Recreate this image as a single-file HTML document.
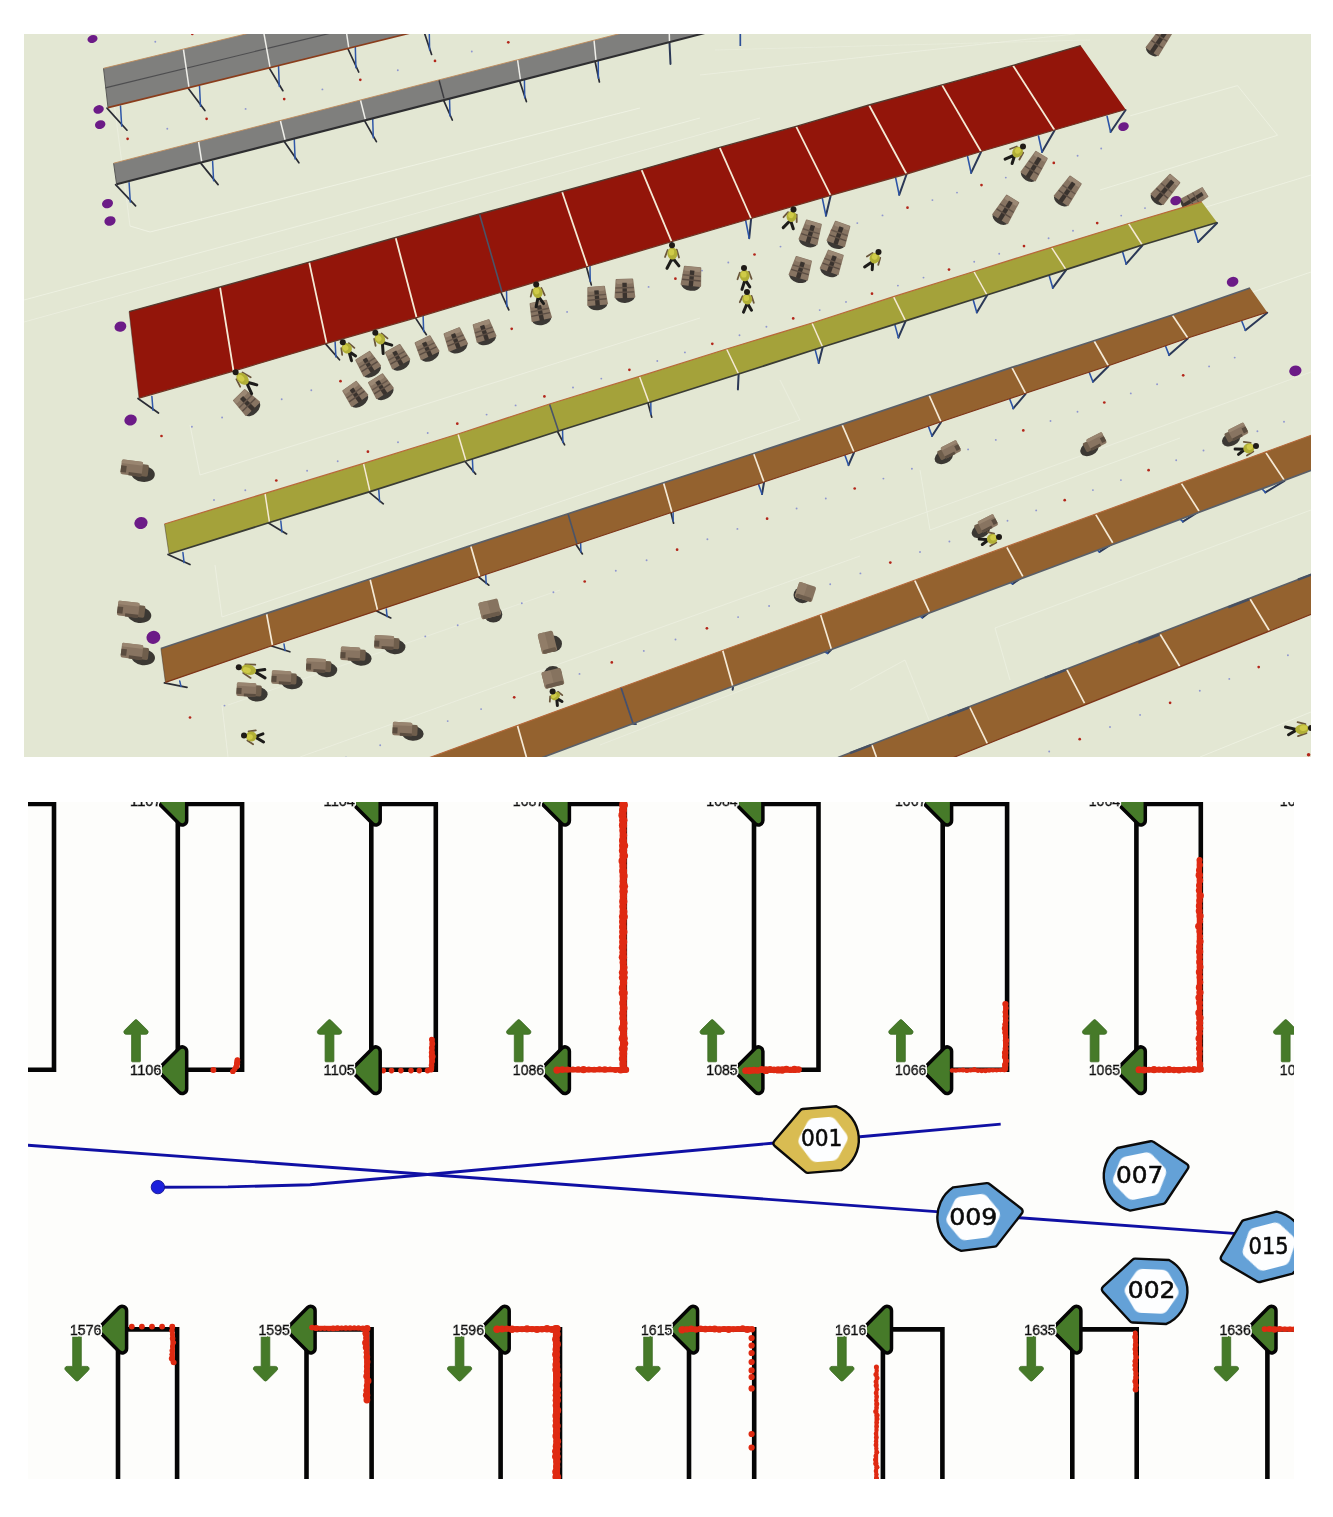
<!DOCTYPE html>
<html lang="en">
<head>
<meta charset="utf-8">
<title>Warehouse simulation</title>
<style>
html,body{margin:0;padding:0;background:#fff;}
body{width:1333px;height:1517px;position:relative;overflow:hidden;font-family:"Liberation Sans",sans-serif;}
svg{position:absolute;left:0;top:0;display:block;}
.lbl{font-family:"Liberation Sans",sans-serif;font-size:15px;fill:#080808;stroke:#080808;stroke-width:0.85px;}
.rid{font-family:"DejaVu Sans","Liberation Sans",sans-serif;font-size:23px;fill:#0a0a0a;stroke:#0a0a0a;stroke-width:0.55px;}
</style>
</head>
<body>
<svg width="1333" height="1517" viewBox="0 0 1333 1517">
<defs><clipPath id="ct"><rect x="24" y="34" width="1287" height="723"/></clipPath></defs>
<g clip-path="url(#ct)">
<rect x="24" y="34" width="1287" height="723" fill="#e3e7d3"/>
<line x1="24" y1="300" x2="700" y2="118" stroke="#f3f6ea" stroke-width="1.0" stroke-opacity="0.6"/><line x1="24" y1="322" x2="760" y2="118" stroke="#f3f6ea" stroke-width="1.0" stroke-opacity="0.5"/><line x1="150" y1="232" x2="640" y2="108" stroke="#f3f6ea" stroke-width="1.0" stroke-opacity="0.7"/><line x1="130" y1="226" x2="150" y2="232" stroke="#f3f6ea" stroke-width="1.0" stroke-opacity="0.7"/><line x1="112" y1="87" x2="130" y2="226" stroke="#f3f6ea" stroke-width="0.9" stroke-opacity="0.5"/><line x1="165" y1="152" x2="560" y2="52" stroke="#f3f6ea" stroke-width="0.9" stroke-opacity="0.6"/><line x1="700" y1="75" x2="1075" y2="34" stroke="#f3f6ea" stroke-width="0.9" stroke-opacity="0.5"/><line x1="715" y1="50" x2="1090" y2="40" stroke="#f3f6ea" stroke-width="0.8" stroke-opacity="0.4"/><line x1="1130.2" y1="115.8" x2="1237.5" y2="85.6" stroke="#f3f6ea" stroke-width="1.0" stroke-opacity="0.6"/><line x1="1237.5" y1="85.6" x2="1277.5" y2="135.3" stroke="#f3f6ea" stroke-width="1.0" stroke-opacity="0.6"/><line x1="1277.5" y1="135.3" x2="1100" y2="190" stroke="#f3f6ea" stroke-width="1.0" stroke-opacity="0.6"/><line x1="1180" y1="215" x2="1311" y2="175" stroke="#f3f6ea" stroke-width="1.0" stroke-opacity="0.6"/><line x1="1215" y1="305" x2="1311" y2="272" stroke="#f3f6ea" stroke-width="1.0" stroke-opacity="0.6"/><line x1="190" y1="425" x2="200" y2="475" stroke="#f3f6ea" stroke-width="0.9" stroke-opacity="0.6"/><line x1="200" y1="475" x2="700" y2="318" stroke="#f3f6ea" stroke-width="0.9" stroke-opacity="0.6"/><line x1="215" y1="565" x2="222" y2="617" stroke="#f3f6ea" stroke-width="0.9" stroke-opacity="0.6"/><line x1="222" y1="617" x2="800" y2="420" stroke="#f3f6ea" stroke-width="0.9" stroke-opacity="0.6"/><line x1="800" y1="420" x2="780" y2="380" stroke="#f3f6ea" stroke-width="0.9" stroke-opacity="0.5"/><line x1="222" y1="705" x2="228" y2="757" stroke="#f3f6ea" stroke-width="0.9" stroke-opacity="0.6"/><line x1="228" y1="705" x2="560" y2="590" stroke="#f3f6ea" stroke-width="0.8" stroke-opacity="0.5"/><line x1="300" y1="757" x2="860" y2="556" stroke="#f3f6ea" stroke-width="0.9" stroke-opacity="0.5"/><line x1="850" y1="540" x2="1311" y2="372" stroke="#f3f6ea" stroke-width="0.9" stroke-opacity="0.5"/><line x1="920" y1="470" x2="930" y2="530" stroke="#f3f6ea" stroke-width="0.9" stroke-opacity="0.55"/><line x1="930" y1="530" x2="1180" y2="438" stroke="#f3f6ea" stroke-width="0.9" stroke-opacity="0.55"/><line x1="995" y1="628" x2="1010" y2="680" stroke="#f3f6ea" stroke-width="0.9" stroke-opacity="0.55"/><line x1="995" y1="628" x2="1311" y2="510" stroke="#f3f6ea" stroke-width="0.9" stroke-opacity="0.55"/><line x1="850" y1="690" x2="905" y2="660" stroke="#f3f6ea" stroke-width="0.9" stroke-opacity="0.5"/><line x1="905" y1="660" x2="935" y2="735" stroke="#f3f6ea" stroke-width="0.9" stroke-opacity="0.5"/><line x1="1200" y1="757" x2="1311" y2="712" stroke="#f3f6ea" stroke-width="1.0" stroke-opacity="0.6"/><line x1="520" y1="552" x2="780" y2="470" stroke="#f3f6ea" stroke-width="0.9" stroke-opacity="0.5"/><line x1="600" y1="745" x2="820" y2="660" stroke="#f3f6ea" stroke-width="0.9" stroke-opacity="0.45"/>
<circle cx="127.6" cy="138.8" r="1.35" fill="#b3261a"/><circle cx="167.3" cy="128.7" r="0.95" fill="#8f96cf"/><circle cx="206.6" cy="118.8" r="1.35" fill="#b3261a"/><circle cx="245.6" cy="108.9" r="0.95" fill="#8f96cf"/><circle cx="284.2" cy="99.1" r="1.35" fill="#b3261a"/><circle cx="322.4" cy="89.4" r="0.95" fill="#8f96cf"/><circle cx="360.3" cy="79.8" r="1.35" fill="#b3261a"/><circle cx="397.8" cy="70.3" r="0.95" fill="#8f96cf"/><circle cx="435" cy="60.9" r="1.35" fill="#b3261a"/><circle cx="471.8" cy="51.5" r="0.95" fill="#8f96cf"/><circle cx="508.3" cy="42.3" r="1.35" fill="#b3261a"/><circle cx="544.4" cy="33.1" r="0.95" fill="#8f96cf"/><circle cx="155.3" cy="41.7" r="0.95" fill="#8f96cf"/><circle cx="192.3" cy="33.9" r="1.35" fill="#b3261a"/><circle cx="161.5" cy="436" r="1.35" fill="#b3261a"/><circle cx="191.9" cy="426.7" r="0.95" fill="#8f96cf"/><circle cx="222.1" cy="417.5" r="0.95" fill="#8f96cf"/><circle cx="252" cy="408.3" r="1.35" fill="#b3261a"/><circle cx="281.7" cy="399.2" r="0.95" fill="#8f96cf"/><circle cx="311.3" cy="390.2" r="0.95" fill="#8f96cf"/><circle cx="340.5" cy="381.2" r="1.35" fill="#b3261a"/><circle cx="369.6" cy="372.3" r="0.95" fill="#8f96cf"/><circle cx="398.5" cy="363.5" r="0.95" fill="#8f96cf"/><circle cx="427.1" cy="354.7" r="1.35" fill="#b3261a"/><circle cx="455.5" cy="346" r="0.95" fill="#8f96cf"/><circle cx="483.7" cy="337.4" r="0.95" fill="#8f96cf"/><circle cx="511.7" cy="328.8" r="1.35" fill="#b3261a"/><circle cx="539.5" cy="320.3" r="0.95" fill="#8f96cf"/><circle cx="567.1" cy="311.9" r="0.95" fill="#8f96cf"/><circle cx="594.5" cy="303.5" r="1.35" fill="#b3261a"/><circle cx="621.6" cy="295.2" r="0.95" fill="#8f96cf"/><circle cx="648.6" cy="286.9" r="0.95" fill="#8f96cf"/><circle cx="675.4" cy="278.7" r="1.35" fill="#b3261a"/><circle cx="702" cy="270.6" r="0.95" fill="#8f96cf"/><circle cx="728.3" cy="262.5" r="0.95" fill="#8f96cf"/><circle cx="754.5" cy="254.5" r="1.35" fill="#b3261a"/><circle cx="780.5" cy="246.6" r="0.95" fill="#8f96cf"/><circle cx="806.3" cy="238.7" r="0.95" fill="#8f96cf"/><circle cx="831.9" cy="230.9" r="1.35" fill="#b3261a"/><circle cx="857.3" cy="223.1" r="0.95" fill="#8f96cf"/><circle cx="882.5" cy="215.4" r="0.95" fill="#8f96cf"/><circle cx="907.5" cy="207.7" r="1.35" fill="#b3261a"/><circle cx="932.4" cy="200.1" r="0.95" fill="#8f96cf"/><circle cx="957" cy="192.6" r="0.95" fill="#8f96cf"/><circle cx="981.5" cy="185.1" r="1.35" fill="#b3261a"/><circle cx="1005.8" cy="177.6" r="0.95" fill="#8f96cf"/><circle cx="1029.9" cy="170.3" r="0.95" fill="#8f96cf"/><circle cx="1053.8" cy="162.9" r="1.35" fill="#b3261a"/><circle cx="1077.6" cy="155.7" r="0.95" fill="#8f96cf"/><circle cx="1101.2" cy="148.5" r="0.95" fill="#8f96cf"/><circle cx="214" cy="500" r="0.95" fill="#8f96cf"/><circle cx="245.3" cy="490.2" r="0.95" fill="#8f96cf"/><circle cx="276.3" cy="480.5" r="1.35" fill="#b3261a"/><circle cx="307.1" cy="470.8" r="0.95" fill="#8f96cf"/><circle cx="337.7" cy="461.2" r="0.95" fill="#8f96cf"/><circle cx="367.9" cy="451.7" r="1.35" fill="#b3261a"/><circle cx="398" cy="442.3" r="0.95" fill="#8f96cf"/><circle cx="427.7" cy="433" r="0.95" fill="#8f96cf"/><circle cx="457.3" cy="423.7" r="1.35" fill="#b3261a"/><circle cx="486.6" cy="414.6" r="0.95" fill="#8f96cf"/><circle cx="515.6" cy="405.4" r="0.95" fill="#8f96cf"/><circle cx="544.4" cy="396.4" r="1.35" fill="#b3261a"/><circle cx="573" cy="387.5" r="0.95" fill="#8f96cf"/><circle cx="601.3" cy="378.6" r="0.95" fill="#8f96cf"/><circle cx="629.4" cy="369.8" r="1.35" fill="#b3261a"/><circle cx="657.3" cy="361" r="0.95" fill="#8f96cf"/><circle cx="684.9" cy="352.4" r="0.95" fill="#8f96cf"/><circle cx="712.3" cy="343.8" r="1.35" fill="#b3261a"/><circle cx="739.5" cy="335.3" r="0.95" fill="#8f96cf"/><circle cx="766.4" cy="326.8" r="0.95" fill="#8f96cf"/><circle cx="793.2" cy="318.4" r="1.35" fill="#b3261a"/><circle cx="819.7" cy="310.1" r="0.95" fill="#8f96cf"/><circle cx="846" cy="301.9" r="0.95" fill="#8f96cf"/><circle cx="872" cy="293.7" r="1.35" fill="#b3261a"/><circle cx="897.9" cy="285.6" r="0.95" fill="#8f96cf"/><circle cx="923.5" cy="277.6" r="0.95" fill="#8f96cf"/><circle cx="949" cy="269.6" r="1.35" fill="#b3261a"/><circle cx="974.2" cy="261.7" r="0.95" fill="#8f96cf"/><circle cx="999.2" cy="253.8" r="0.95" fill="#8f96cf"/><circle cx="1024" cy="246.1" r="1.35" fill="#b3261a"/><circle cx="1048.6" cy="238.3" r="0.95" fill="#8f96cf"/><circle cx="1073" cy="230.7" r="0.95" fill="#8f96cf"/><circle cx="1097.2" cy="223.1" r="1.35" fill="#b3261a"/><circle cx="1121.2" cy="215.6" r="0.95" fill="#8f96cf"/><circle cx="1145" cy="208.1" r="0.95" fill="#8f96cf"/><circle cx="190" cy="717.5" r="1.35" fill="#b3261a"/><circle cx="224.5" cy="705.6" r="0.95" fill="#8f96cf"/><circle cx="258.7" cy="693.8" r="0.95" fill="#8f96cf"/><circle cx="292.6" cy="682.2" r="1.35" fill="#b3261a"/><circle cx="326.2" cy="670.6" r="0.95" fill="#8f96cf"/><circle cx="359.5" cy="659.1" r="0.95" fill="#8f96cf"/><circle cx="392.5" cy="647.7" r="1.35" fill="#b3261a"/><circle cx="425.3" cy="636.4" r="0.95" fill="#8f96cf"/><circle cx="457.7" cy="625.3" r="0.95" fill="#8f96cf"/><circle cx="489.9" cy="614.2" r="1.35" fill="#b3261a"/><circle cx="521.8" cy="603.2" r="0.95" fill="#8f96cf"/><circle cx="553.4" cy="592.3" r="0.95" fill="#8f96cf"/><circle cx="584.7" cy="581.5" r="1.35" fill="#b3261a"/><circle cx="615.8" cy="570.8" r="0.95" fill="#8f96cf"/><circle cx="646.6" cy="560.2" r="0.95" fill="#8f96cf"/><circle cx="677.1" cy="549.7" r="1.35" fill="#b3261a"/><circle cx="707.4" cy="539.3" r="0.95" fill="#8f96cf"/><circle cx="737.4" cy="528.9" r="0.95" fill="#8f96cf"/><circle cx="767.1" cy="518.7" r="1.35" fill="#b3261a"/><circle cx="796.6" cy="508.5" r="0.95" fill="#8f96cf"/><circle cx="825.8" cy="498.5" r="0.95" fill="#8f96cf"/><circle cx="854.7" cy="488.5" r="1.35" fill="#b3261a"/><circle cx="883.4" cy="478.6" r="0.95" fill="#8f96cf"/><circle cx="911.9" cy="468.8" r="0.95" fill="#8f96cf"/><circle cx="940.1" cy="459.1" r="1.35" fill="#b3261a"/><circle cx="968.1" cy="449.4" r="0.95" fill="#8f96cf"/><circle cx="995.8" cy="439.9" r="0.95" fill="#8f96cf"/><circle cx="1023.3" cy="430.4" r="1.35" fill="#b3261a"/><circle cx="1050.5" cy="421" r="0.95" fill="#8f96cf"/><circle cx="1077.5" cy="411.7" r="0.95" fill="#8f96cf"/><circle cx="1104.3" cy="402.5" r="1.35" fill="#b3261a"/><circle cx="1130.8" cy="393.4" r="0.95" fill="#8f96cf"/><circle cx="1157.1" cy="384.3" r="0.95" fill="#8f96cf"/><circle cx="1183.2" cy="375.3" r="1.35" fill="#b3261a"/><circle cx="1209.1" cy="366.4" r="0.95" fill="#8f96cf"/><circle cx="1234.7" cy="357.6" r="0.95" fill="#8f96cf"/><circle cx="346" cy="757.5" r="0.95" fill="#8f96cf"/><circle cx="380.2" cy="745.3" r="0.95" fill="#8f96cf"/><circle cx="414.1" cy="733.1" r="1.35" fill="#b3261a"/><circle cx="447.7" cy="721.1" r="0.95" fill="#8f96cf"/><circle cx="481.1" cy="709.1" r="0.95" fill="#8f96cf"/><circle cx="514.2" cy="697.3" r="1.35" fill="#b3261a"/><circle cx="547" cy="685.5" r="0.95" fill="#8f96cf"/><circle cx="579.5" cy="673.9" r="0.95" fill="#8f96cf"/><circle cx="611.8" cy="662.4" r="1.35" fill="#b3261a"/><circle cx="643.8" cy="650.9" r="0.95" fill="#8f96cf"/><circle cx="675.5" cy="639.5" r="0.95" fill="#8f96cf"/><circle cx="706.9" cy="628.3" r="1.35" fill="#b3261a"/><circle cx="738.1" cy="617.1" r="0.95" fill="#8f96cf"/><circle cx="769.1" cy="606" r="0.95" fill="#8f96cf"/><circle cx="799.8" cy="595.1" r="1.35" fill="#b3261a"/><circle cx="830.2" cy="584.2" r="0.95" fill="#8f96cf"/><circle cx="860.4" cy="573.4" r="0.95" fill="#8f96cf"/><circle cx="890.3" cy="562.6" r="1.35" fill="#b3261a"/><circle cx="920" cy="552" r="0.95" fill="#8f96cf"/><circle cx="949.4" cy="541.5" r="0.95" fill="#8f96cf"/><circle cx="978.6" cy="531" r="1.35" fill="#b3261a"/><circle cx="1007.5" cy="520.7" r="0.95" fill="#8f96cf"/><circle cx="1036.2" cy="510.4" r="0.95" fill="#8f96cf"/><circle cx="1064.7" cy="500.2" r="1.35" fill="#b3261a"/><circle cx="1092.9" cy="490.1" r="0.95" fill="#8f96cf"/><circle cx="1120.9" cy="480.1" r="0.95" fill="#8f96cf"/><circle cx="1148.6" cy="470.2" r="1.35" fill="#b3261a"/><circle cx="1176.2" cy="460.3" r="0.95" fill="#8f96cf"/><circle cx="1203.5" cy="450.5" r="0.95" fill="#8f96cf"/><circle cx="1230.5" cy="440.8" r="1.35" fill="#b3261a"/><circle cx="1257.4" cy="431.2" r="0.95" fill="#8f96cf"/><circle cx="1284" cy="421.7" r="0.95" fill="#8f96cf"/><circle cx="1049.2" cy="751.5" r="0.95" fill="#8f96cf"/><circle cx="1079.7" cy="739.2" r="1.35" fill="#b3261a"/><circle cx="1110" cy="727" r="0.95" fill="#8f96cf"/><circle cx="1140.1" cy="714.9" r="0.95" fill="#8f96cf"/><circle cx="1170.1" cy="702.8" r="1.35" fill="#b3261a"/><circle cx="1199.8" cy="690.8" r="0.95" fill="#8f96cf"/><circle cx="1229.3" cy="678.9" r="0.95" fill="#8f96cf"/><circle cx="1258.7" cy="667.1" r="1.35" fill="#b3261a"/><circle cx="1287.9" cy="655.3" r="0.95" fill="#8f96cf"/><circle cx="1308.6" cy="754.8" r="1.8" fill="#b3261a"/>
<ellipse cx="92.5" cy="39" rx="5.1" ry="3.9" transform="rotate(-18 92.5 39)" fill="#6c1b87"/>
<ellipse cx="98.6" cy="109.4" rx="5.3" ry="4.2" transform="rotate(-18 98.6 109.4)" fill="#6c1b87"/>
<ellipse cx="100.2" cy="124.6" rx="5.3" ry="4.3" transform="rotate(-18 100.2 124.6)" fill="#6c1b87"/>
<ellipse cx="107.5" cy="203.6" rx="5.6" ry="4.6" transform="rotate(-18 107.5 203.6)" fill="#6c1b87"/>
<ellipse cx="110" cy="221" rx="5.7" ry="4.7" transform="rotate(-18 110 221)" fill="#6c1b87"/>
<ellipse cx="120.4" cy="326.6" rx="6" ry="5.1" transform="rotate(-18 120.4 326.6)" fill="#6c1b87"/>
<ellipse cx="130.6" cy="420" rx="6.3" ry="5.5" transform="rotate(-18 130.6 420)" fill="#6c1b87"/>
<ellipse cx="141" cy="523" rx="6.7" ry="6" transform="rotate(-18 141 523)" fill="#6c1b87"/>
<ellipse cx="153.4" cy="637.4" rx="7" ry="6.5" transform="rotate(-18 153.4 637.4)" fill="#6c1b87"/>
<ellipse cx="1123.5" cy="126.6" rx="5.4" ry="4.3" transform="rotate(-18 1123.5 126.6)" fill="#6c1b87"/>
<ellipse cx="1175.8" cy="200.6" rx="5.6" ry="4.6" transform="rotate(-18 1175.8 200.6)" fill="#6c1b87"/>
<ellipse cx="1232.6" cy="281.8" rx="5.9" ry="4.9" transform="rotate(-18 1232.6 281.8)" fill="#6c1b87"/>
<ellipse cx="1295.4" cy="370.8" rx="6.2" ry="5.3" transform="rotate(-18 1295.4 370.8)" fill="#6c1b87"/>
<line x1="107" y1="108.1" x2="127" y2="130.2" stroke="#2a2c34" stroke-width="1.7" stroke-linecap="round"/><line x1="120.5" y1="106.1" x2="121.7" y2="126.1" stroke="#2f57a8" stroke-width="1.5" stroke-linecap="round"/><line x1="188" y1="87.9" x2="204.9" y2="110.5" stroke="#2a2c34" stroke-width="1.7" stroke-linecap="round"/><line x1="199.5" y1="85.9" x2="200.5" y2="106.3" stroke="#2f57a8" stroke-width="1.5" stroke-linecap="round"/><line x1="269" y1="67.6" x2="282.9" y2="90.7" stroke="#2a2c34" stroke-width="1.7" stroke-linecap="round"/><line x1="278.5" y1="65.6" x2="279.3" y2="86.4" stroke="#2f57a8" stroke-width="1.5" stroke-linecap="round"/><line x1="347.8" y1="48.5" x2="358.7" y2="72" stroke="#2a2c34" stroke-width="1.7" stroke-linecap="round"/><line x1="355.3" y1="46.5" x2="355.9" y2="67.7" stroke="#2f57a8" stroke-width="1.5" stroke-linecap="round"/><line x1="423.6" y1="30.5" x2="431.6" y2="54.5" stroke="#2a2c34" stroke-width="1.7" stroke-linecap="round"/><line x1="429.2" y1="28.5" x2="429.6" y2="50.1" stroke="#2f57a8" stroke-width="1.5" stroke-linecap="round"/>
<polygon points="103.5,68.3 420,-8 424.6,29.5 108,107.6" fill="#7f7f7d"/>
<line x1="105.3" y1="87.8" x2="422" y2="11" stroke="#4e4e50" stroke-width="1.2"/>
<line x1="183.4" y1="49.1" x2="189" y2="87.4" stroke="#efefea" stroke-width="1.5"/>
<line x1="263.3" y1="30" x2="270" y2="67.1" stroke="#efefea" stroke-width="1.5"/>
<line x1="343.2" y1="11" x2="348.8" y2="48" stroke="#efefea" stroke-width="1.5"/>
<line x1="103.5" y1="68.3" x2="108" y2="107.6" stroke="#5a5a58" stroke-width="1.0"/>
<line x1="103.5" y1="68.3" x2="420" y2="-8" stroke="#c08a5a" stroke-width="0.9"/>
<line x1="108" y1="107.6" x2="424.6" y2="29.5" stroke="#8a3d1c" stroke-width="1.6"/>
<line x1="115.6" y1="184.7" x2="135.6" y2="205.9" stroke="#2a2c34" stroke-width="1.7" stroke-linecap="round"/><line x1="129.1" y1="182.7" x2="130.3" y2="202" stroke="#2f57a8" stroke-width="1.5" stroke-linecap="round"/><line x1="200.9" y1="163.4" x2="218.1" y2="184.6" stroke="#2a2c34" stroke-width="1.7" stroke-linecap="round"/><line x1="212.6" y1="161.4" x2="213.6" y2="180.7" stroke="#2f57a8" stroke-width="1.5" stroke-linecap="round"/><line x1="284.4" y1="141.7" x2="298.9" y2="162.8" stroke="#2a2c34" stroke-width="1.7" stroke-linecap="round"/><line x1="294.3" y1="139.7" x2="295.1" y2="158.9" stroke="#2f57a8" stroke-width="1.5" stroke-linecap="round"/><line x1="364.5" y1="120.6" x2="376.4" y2="141.7" stroke="#2a2c34" stroke-width="1.7" stroke-linecap="round"/><line x1="372.7" y1="118.6" x2="373.3" y2="137.8" stroke="#2f57a8" stroke-width="1.5" stroke-linecap="round"/><line x1="443" y1="98.9" x2="452.3" y2="120" stroke="#2a2c34" stroke-width="1.7" stroke-linecap="round"/><line x1="449.5" y1="96.9" x2="450" y2="116.1" stroke="#2f57a8" stroke-width="1.5" stroke-linecap="round"/><line x1="519.5" y1="80.5" x2="526.4" y2="101.6" stroke="#2a2c34" stroke-width="1.7" stroke-linecap="round"/><line x1="524.4" y1="78.5" x2="524.7" y2="97.7" stroke="#2f57a8" stroke-width="1.5" stroke-linecap="round"/><line x1="595" y1="61" x2="599.4" y2="82" stroke="#2a2c34" stroke-width="1.7" stroke-linecap="round"/><line x1="598.2" y1="59" x2="598.4" y2="78.2" stroke="#2f57a8" stroke-width="1.5" stroke-linecap="round"/><line x1="669.5" y1="42.9" x2="670.5" y2="63.9" stroke="#2b3856" stroke-width="2.0" stroke-linecap="round"/>
<line x1="740.3" y1="30" x2="740.3" y2="46" stroke="#2d4f98" stroke-width="1.7"/>
<polygon points="113.6,163.2 669,21 740,24 116.6,184.2" fill="#7f7f7d"/>
<line x1="198.6" y1="141.8" x2="201.9" y2="162.9" stroke="#efefea" stroke-width="1.5"/>
<line x1="280.4" y1="120.8" x2="285.4" y2="141.2" stroke="#efefea" stroke-width="1.5"/>
<line x1="360.5" y1="100.1" x2="365.5" y2="120.1" stroke="#efefea" stroke-width="1.5"/>
<line x1="439" y1="80" x2="444" y2="98.4" stroke="#3c3c40" stroke-width="1.5"/>
<line x1="517.5" y1="59.5" x2="520.5" y2="80" stroke="#efefea" stroke-width="1.5"/>
<line x1="594" y1="40" x2="596" y2="60.5" stroke="#efefea" stroke-width="1.5"/>
<line x1="669" y1="21" x2="669.5" y2="42.4" stroke="#efefea" stroke-width="1.5"/>
<line x1="113.6" y1="163.2" x2="116.6" y2="184.2" stroke="#5a5a58" stroke-width="1.0"/>
<line x1="113.6" y1="163.2" x2="669" y2="21" stroke="#c08a5a" stroke-width="0.9"/>
<line x1="116.6" y1="184.2" x2="740" y2="24" stroke="#2e2e30" stroke-width="2.0"/>
<line x1="138" y1="398.5" x2="158.5" y2="413" stroke="#2a2c34" stroke-width="1.7" stroke-linecap="round"/><line x1="151.9" y1="396.5" x2="153" y2="410.3" stroke="#2f57a8" stroke-width="1.5" stroke-linecap="round"/><line x1="325.6" y1="343.9" x2="339.5" y2="359.8" stroke="#2a2c34" stroke-width="1.7" stroke-linecap="round"/><line x1="335.1" y1="341.9" x2="335.9" y2="356.9" stroke="#2f57a8" stroke-width="1.5" stroke-linecap="round"/><line x1="415.6" y1="318.1" x2="426.4" y2="334.7" stroke="#2a2c34" stroke-width="1.7" stroke-linecap="round"/><line x1="423.1" y1="316.1" x2="423.7" y2="331.6" stroke="#2f57a8" stroke-width="1.5" stroke-linecap="round"/><line x1="501" y1="292.5" x2="508.8" y2="309.8" stroke="#2a2c34" stroke-width="1.7" stroke-linecap="round"/><line x1="506.5" y1="290.5" x2="506.9" y2="306.6" stroke="#2f57a8" stroke-width="1.5" stroke-linecap="round"/><line x1="586.5" y1="267" x2="591.3" y2="284.9" stroke="#2a2c34" stroke-width="1.7" stroke-linecap="round"/><line x1="590" y1="265" x2="590.2" y2="281.6" stroke="#2f57a8" stroke-width="1.5" stroke-linecap="round"/><line x1="671.6" y1="242.1" x2="672.5" y2="260.6" stroke="#2b3856" stroke-width="2.0" stroke-linecap="round"/><line x1="751.1" y1="219" x2="749.2" y2="238.2" stroke="#2b3856" stroke-width="2.0" stroke-linecap="round"/><line x1="745.7" y1="220.7" x2="749.2" y2="238.2" stroke="#2c54a6" stroke-width="1.6" stroke-linecap="round"/><line x1="830.6" y1="195.9" x2="825.9" y2="215.7" stroke="#2b3856" stroke-width="2.0" stroke-linecap="round"/><line x1="822.4" y1="198.6" x2="825.9" y2="215.7" stroke="#2c54a6" stroke-width="1.6" stroke-linecap="round"/><line x1="906.5" y1="174.5" x2="899.2" y2="194.8" stroke="#2b3856" stroke-width="2.0" stroke-linecap="round"/><line x1="895.7" y1="178.1" x2="899.2" y2="194.8" stroke="#2c54a6" stroke-width="1.6" stroke-linecap="round"/><line x1="981" y1="152" x2="971.1" y2="172.9" stroke="#2b3856" stroke-width="2.0" stroke-linecap="round"/><line x1="967.6" y1="156.6" x2="971.1" y2="172.9" stroke="#2c54a6" stroke-width="1.6" stroke-linecap="round"/><line x1="1054.5" y1="130.5" x2="1042" y2="152" stroke="#2b3856" stroke-width="2.0" stroke-linecap="round"/><line x1="1038.5" y1="136" x2="1042" y2="152" stroke="#2c54a6" stroke-width="1.6" stroke-linecap="round"/><line x1="1125.6" y1="110" x2="1110.6" y2="132" stroke="#2b3856" stroke-width="2.0" stroke-linecap="round"/><line x1="1107.1" y1="116.4" x2="1110.6" y2="132" stroke="#2c54a6" stroke-width="1.6" stroke-linecap="round"/>
<polygon points="129.1,311.6 220,287 309.2,262.1 395.6,237.5 479.5,214 562,191.5 641.5,169.6 719.6,147.4 796.1,126.4 869,105 942,84.9 1013,65.4 1080.6,45.6 1125.6,109.5 1054.5,130 981,151.5 906.5,174 830.6,195.4 751.1,218.5 671.6,241.6 587.5,266.5 502,292 416.6,317.6 326.6,343.4 233.5,371 139,398" fill="#93150a"/><line x1="129.1" y1="311.6" x2="139" y2="398" stroke="#3a2f2a" stroke-width="0.8" stroke-opacity="0.6"/><line x1="220" y1="287" x2="233.5" y2="371" stroke="#f5ead6" stroke-width="1.8"/><line x1="309.2" y1="262.1" x2="326.6" y2="343.4" stroke="#f5ead6" stroke-width="1.8"/><line x1="395.6" y1="237.5" x2="416.6" y2="317.6" stroke="#f5ead6" stroke-width="1.8"/><line x1="479.5" y1="214" x2="502" y2="292" stroke="#4a5468" stroke-width="1.6"/><line x1="562" y1="191.5" x2="587.5" y2="266.5" stroke="#f5ead6" stroke-width="1.8"/><line x1="641.5" y1="169.6" x2="671.6" y2="241.6" stroke="#f5ead6" stroke-width="1.8"/><line x1="719.6" y1="147.4" x2="751.1" y2="218.5" stroke="#f5ead6" stroke-width="1.8"/><line x1="796.1" y1="126.4" x2="830.6" y2="195.4" stroke="#f5ead6" stroke-width="1.8"/><line x1="869" y1="105" x2="906.5" y2="174" stroke="#f5ead6" stroke-width="1.8"/><line x1="942" y1="84.9" x2="981" y2="151.5" stroke="#f5ead6" stroke-width="1.8"/><line x1="1013" y1="65.4" x2="1054.5" y2="130" stroke="#f5ead6" stroke-width="1.8"/><polyline points="129.1,311.6 220,287 309.2,262.1 395.6,237.5 479.5,214 562,191.5 641.5,169.6 719.6,147.4 796.1,126.4 869,105 942,84.9 1013,65.4 1080.6,45.6" fill="none" stroke="#54382e" stroke-width="1.4"/><polyline points="139,398 233.5,371 326.6,343.4 416.6,317.6 502,292 587.5,266.5 671.6,241.6 751.1,218.5 830.6,195.4 906.5,174 981,151.5 1054.5,130 1125.6,109.5" fill="none" stroke="#6e3424" stroke-width="1.3"/>
<g transform="translate(1194,199) rotate(58) scale(0.85)"><ellipse cx="0" cy="11.7" rx="7.9" ry="4.8" fill="#3b3834"/><path d="M-6.1,-15.2 L6.1,-15.2 L7.7,12.2 L-7.7,12.2Z" fill="#877462" stroke="#877462" stroke-width="1.6" stroke-linejoin="round"/><rect x="-6.3" y="-15.6" width="12.6" height="4.6" rx="1.5" fill="#9b8874"/><rect x="-2.2" y="-12" width="4.4" height="25.3" fill="#3a332e"/><rect x="-7.3" y="-3.3" width="14.6" height="1.4" fill="#65564a"/><rect x="-7.5" y="3.8" width="15" height="1.4" fill="#5a4c42"/></g>
<line x1="168" y1="554.5" x2="190" y2="564.5" stroke="#2a2c34" stroke-width="1.7" stroke-linecap="round"/><line x1="182.9" y1="552.5" x2="184.1" y2="562.6" stroke="#2f57a8" stroke-width="1.5" stroke-linecap="round"/><line x1="268.5" y1="523" x2="286.7" y2="533.9" stroke="#2a2c34" stroke-width="1.7" stroke-linecap="round"/><line x1="280.8" y1="521" x2="281.9" y2="531.8" stroke="#2f57a8" stroke-width="1.5" stroke-linecap="round"/><line x1="369" y1="492.1" x2="383.3" y2="503.8" stroke="#2a2c34" stroke-width="1.7" stroke-linecap="round"/><line x1="378.8" y1="490.1" x2="379.6" y2="501.6" stroke="#2f57a8" stroke-width="1.5" stroke-linecap="round"/><line x1="465" y1="461.5" x2="475.7" y2="474.1" stroke="#2a2c34" stroke-width="1.7" stroke-linecap="round"/><line x1="472.4" y1="459.5" x2="473" y2="471.7" stroke="#2f57a8" stroke-width="1.5" stroke-linecap="round"/><line x1="557.5" y1="431.5" x2="564.6" y2="444.8" stroke="#2a2c34" stroke-width="1.7" stroke-linecap="round"/><line x1="562.5" y1="429.5" x2="562.9" y2="442.4" stroke="#2f57a8" stroke-width="1.5" stroke-linecap="round"/><line x1="648" y1="403" x2="651.7" y2="417.1" stroke="#2a2c34" stroke-width="1.7" stroke-linecap="round"/><line x1="650.8" y1="401" x2="650.9" y2="414.5" stroke="#2f57a8" stroke-width="1.5" stroke-linecap="round"/><line x1="738.6" y1="374.5" x2="737.9" y2="389.4" stroke="#2b3856" stroke-width="2.0" stroke-linecap="round"/><line x1="822.6" y1="347.5" x2="818.7" y2="363.1" stroke="#2b3856" stroke-width="2.0" stroke-linecap="round"/><line x1="815.2" y1="349.9" x2="818.7" y2="363.1" stroke="#2c54a6" stroke-width="1.6" stroke-linecap="round"/><line x1="905.5" y1="321.3" x2="898.4" y2="337.6" stroke="#2b3856" stroke-width="2.0" stroke-linecap="round"/><line x1="894.9" y1="324.9" x2="898.4" y2="337.6" stroke="#2c54a6" stroke-width="1.6" stroke-linecap="round"/><line x1="987" y1="295.5" x2="976.8" y2="312.5" stroke="#2b3856" stroke-width="2.0" stroke-linecap="round"/><line x1="973.3" y1="300.2" x2="976.8" y2="312.5" stroke="#2c54a6" stroke-width="1.6" stroke-linecap="round"/><line x1="1066" y1="270.2" x2="1052.8" y2="287.9" stroke="#2b3856" stroke-width="2.0" stroke-linecap="round"/><line x1="1049.3" y1="276" x2="1052.8" y2="287.9" stroke="#2c54a6" stroke-width="1.6" stroke-linecap="round"/><line x1="1142.3" y1="245.5" x2="1126.2" y2="263.9" stroke="#2b3856" stroke-width="2.0" stroke-linecap="round"/><line x1="1122.7" y1="252.3" x2="1126.2" y2="263.9" stroke="#2c54a6" stroke-width="1.6" stroke-linecap="round"/><line x1="1217.1" y1="223" x2="1198.1" y2="242" stroke="#2b3856" stroke-width="2.0" stroke-linecap="round"/><line x1="1194.6" y1="230.8" x2="1198.1" y2="242" stroke="#2c54a6" stroke-width="1.6" stroke-linecap="round"/>
<polygon points="164.5,524 265,493.4 363.5,463.4 458,434 549.5,404 639.5,376.4 726.6,349 812,323 893.5,296.7 973.9,271.5 1051.5,247.3 1128.5,223.5 1201.6,201.8 1217.1,222.5 1142.3,245 1066,269.7 987,295 905.5,320.8 822.6,347 738.6,374 649,402.5 558.5,431 466,461 370,491.6 269.5,522.5 169,554" fill="#a4a23a"/><line x1="164.5" y1="524" x2="169" y2="554" stroke="#3a2f2a" stroke-width="0.8" stroke-opacity="0.6"/><line x1="265" y1="493.4" x2="269.5" y2="522.5" stroke="#f5ead6" stroke-width="1.5"/><line x1="363.5" y1="463.4" x2="370" y2="491.6" stroke="#f5ead6" stroke-width="1.5"/><line x1="458" y1="434" x2="466" y2="461" stroke="#f5ead6" stroke-width="1.5"/><line x1="549.5" y1="404" x2="558.5" y2="431" stroke="#4a5468" stroke-width="1.6"/><line x1="639.5" y1="376.4" x2="649" y2="402.5" stroke="#f5ead6" stroke-width="1.5"/><line x1="726.6" y1="349" x2="738.6" y2="374" stroke="#f5ead6" stroke-width="1.5"/><line x1="812" y1="323" x2="822.6" y2="347" stroke="#f5ead6" stroke-width="1.5"/><line x1="893.5" y1="296.7" x2="905.5" y2="320.8" stroke="#f5ead6" stroke-width="1.5"/><line x1="973.9" y1="271.5" x2="987" y2="295" stroke="#f5ead6" stroke-width="1.5"/><line x1="1051.5" y1="247.3" x2="1066" y2="269.7" stroke="#f5ead6" stroke-width="1.5"/><line x1="1128.5" y1="223.5" x2="1142.3" y2="245" stroke="#f5ead6" stroke-width="1.5"/><polyline points="164.5,524 265,493.4 363.5,463.4 458,434 549.5,404 639.5,376.4 726.6,349 812,323 893.5,296.7 973.9,271.5 1051.5,247.3 1128.5,223.5 1201.6,201.8" fill="none" stroke="#b8683a" stroke-width="1.3"/><polyline points="169,554 269.5,522.5 370,491.6 466,461 558.5,431 649,402.5 738.6,374 822.6,347 905.5,320.8 987,295 1066,269.7 1142.3,245 1217.1,222.5" fill="none" stroke="#3a3c34" stroke-width="1.8"/>
<line x1="164.4" y1="682.9" x2="187" y2="687.4" stroke="#2a2c34" stroke-width="1.7" stroke-linecap="round"/><line x1="179.7" y1="680.9" x2="181" y2="686.5" stroke="#2f57a8" stroke-width="1.5" stroke-linecap="round"/><line x1="271.5" y1="646" x2="289.9" y2="651.8" stroke="#2a2c34" stroke-width="1.7" stroke-linecap="round"/><line x1="284" y1="644" x2="285" y2="650.6" stroke="#2f57a8" stroke-width="1.5" stroke-linecap="round"/><line x1="376.6" y1="610.9" x2="390.8" y2="617.9" stroke="#2a2c34" stroke-width="1.7" stroke-linecap="round"/><line x1="386.3" y1="608.9" x2="387.1" y2="616.6" stroke="#2f57a8" stroke-width="1.5" stroke-linecap="round"/><line x1="478.6" y1="577" x2="488.8" y2="585.2" stroke="#2a2c34" stroke-width="1.7" stroke-linecap="round"/><line x1="485.7" y1="575" x2="486.2" y2="583.6" stroke="#2f57a8" stroke-width="1.5" stroke-linecap="round"/><line x1="576" y1="544.5" x2="582.4" y2="553.9" stroke="#2a2c34" stroke-width="1.7" stroke-linecap="round"/><line x1="580.6" y1="542.5" x2="580.9" y2="552.1" stroke="#2f57a8" stroke-width="1.5" stroke-linecap="round"/><line x1="671" y1="512.7" x2="673.6" y2="523.2" stroke="#2a2c34" stroke-width="1.7" stroke-linecap="round"/><line x1="673.1" y1="510.7" x2="673.2" y2="521.2" stroke="#2f57a8" stroke-width="1.5" stroke-linecap="round"/><line x1="764" y1="482.5" x2="762" y2="494.1" stroke="#2b3856" stroke-width="2.0" stroke-linecap="round"/><line x1="758.5" y1="484.2" x2="762" y2="494.1" stroke="#2c54a6" stroke-width="1.6" stroke-linecap="round"/><line x1="854" y1="452.5" x2="848.5" y2="465.1" stroke="#2b3856" stroke-width="2.0" stroke-linecap="round"/><line x1="845" y1="455.5" x2="848.5" y2="465.1" stroke="#2c54a6" stroke-width="1.6" stroke-linecap="round"/><line x1="941" y1="422.3" x2="932" y2="436" stroke="#2b3856" stroke-width="2.0" stroke-linecap="round"/><line x1="928.5" y1="426.5" x2="932" y2="436" stroke="#2c54a6" stroke-width="1.6" stroke-linecap="round"/><line x1="1025.6" y1="393.8" x2="1013.3" y2="408.4" stroke="#2b3856" stroke-width="2.0" stroke-linecap="round"/><line x1="1009.8" y1="399.2" x2="1013.3" y2="408.4" stroke="#2c54a6" stroke-width="1.6" stroke-linecap="round"/><line x1="1108.4" y1="366.2" x2="1092.9" y2="381.8" stroke="#2b3856" stroke-width="2.0" stroke-linecap="round"/><line x1="1089.4" y1="372.8" x2="1092.9" y2="381.8" stroke="#2c54a6" stroke-width="1.6" stroke-linecap="round"/><line x1="1187.8" y1="338.5" x2="1169.1" y2="355.1" stroke="#2b3856" stroke-width="2.0" stroke-linecap="round"/><line x1="1165.6" y1="346.2" x2="1169.1" y2="355.1" stroke="#2c54a6" stroke-width="1.6" stroke-linecap="round"/><line x1="1267.2" y1="312.7" x2="1245.4" y2="330.2" stroke="#2b3856" stroke-width="2.0" stroke-linecap="round"/><line x1="1241.9" y1="321.5" x2="1245.4" y2="330.2" stroke="#2c54a6" stroke-width="1.6" stroke-linecap="round"/>
<polygon points="160.9,648.5 266.5,613.4 370,579 470.6,545.6 568,513.7 663.5,482.7 753.6,453.5 842,424.4 929,395 1011.8,367.4 1094,340.8 1172.3,315 1250,288 1267.2,312.2 1187.8,338 1108.4,365.7 1025.6,393.3 941,421.8 854,452 764,482 672,512.2 577,544 479.6,576.5 377.6,610.4 272.5,645.5 165.4,682.4" fill="#94622f"/><line x1="160.9" y1="648.5" x2="165.4" y2="682.4" stroke="#3a2f2a" stroke-width="0.8" stroke-opacity="0.6"/><line x1="266.5" y1="613.4" x2="272.5" y2="645.5" stroke="#f5ead6" stroke-width="1.7"/><line x1="370" y1="579" x2="377.6" y2="610.4" stroke="#f5ead6" stroke-width="1.7"/><line x1="470.6" y1="545.6" x2="479.6" y2="576.5" stroke="#f5ead6" stroke-width="1.7"/><line x1="568" y1="513.7" x2="577" y2="544" stroke="#4a5468" stroke-width="1.6"/><line x1="663.5" y1="482.7" x2="672" y2="512.2" stroke="#f5ead6" stroke-width="1.7"/><line x1="753.6" y1="453.5" x2="764" y2="482" stroke="#f5ead6" stroke-width="1.7"/><line x1="842" y1="424.4" x2="854" y2="452" stroke="#f5ead6" stroke-width="1.7"/><line x1="929" y1="395" x2="941" y2="421.8" stroke="#f5ead6" stroke-width="1.7"/><line x1="1011.8" y1="367.4" x2="1025.6" y2="393.3" stroke="#f5ead6" stroke-width="1.7"/><line x1="1094" y1="340.8" x2="1108.4" y2="365.7" stroke="#f5ead6" stroke-width="1.7"/><line x1="1172.3" y1="315" x2="1187.8" y2="338" stroke="#f5ead6" stroke-width="1.7"/><polyline points="160.9,648.5 266.5,613.4 370,579 470.6,545.6 568,513.7 663.5,482.7 753.6,453.5 842,424.4 929,395 1011.8,367.4 1094,340.8 1172.3,315 1250,288" fill="none" stroke="#5a5f68" stroke-width="1.7"/><polyline points="165.4,682.4 272.5,645.5 377.6,610.4 479.6,576.5 577,544 672,512.2 764,482 854,452 941,421.8 1025.6,393.3 1108.4,365.7 1187.8,338 1267.2,312.2" fill="none" stroke="#7d3418" stroke-width="1.2"/>
<line x1="632" y1="723.7" x2="636" y2="724.2" stroke="#2a2c34" stroke-width="1.7" stroke-linecap="round"/><line x1="635" y1="721.7" x2="635.2" y2="724" stroke="#2f57a8" stroke-width="1.5" stroke-linecap="round"/><line x1="733" y1="687.5" x2="732.6" y2="689.7" stroke="#2b3856" stroke-width="2.0" stroke-linecap="round"/><line x1="831.3" y1="649.5" x2="827.6" y2="653.3" stroke="#2b3856" stroke-width="2.0" stroke-linecap="round"/><line x1="824.1" y1="651.8" x2="827.6" y2="653.3" stroke="#2c54a6" stroke-width="1.6" stroke-linecap="round"/><line x1="929.3" y1="612.1" x2="922.3" y2="617.6" stroke="#2b3856" stroke-width="2.0" stroke-linecap="round"/><line x1="918.8" y1="615.6" x2="922.3" y2="617.6" stroke="#2c54a6" stroke-width="1.6" stroke-linecap="round"/><line x1="1022.8" y1="576.8" x2="1012.6" y2="583.9" stroke="#2b3856" stroke-width="2.0" stroke-linecap="round"/><line x1="1009.1" y1="581.5" x2="1012.6" y2="583.9" stroke="#2c54a6" stroke-width="1.6" stroke-linecap="round"/><line x1="1112.7" y1="543.3" x2="1099.5" y2="551.9" stroke="#2b3856" stroke-width="2.0" stroke-linecap="round"/><line x1="1096" y1="549.1" x2="1099.5" y2="551.9" stroke="#2c54a6" stroke-width="1.6" stroke-linecap="round"/><line x1="1199" y1="511.5" x2="1182.9" y2="521.6" stroke="#2b3856" stroke-width="2.0" stroke-linecap="round"/><line x1="1179.4" y1="518.3" x2="1182.9" y2="521.6" stroke="#2c54a6" stroke-width="1.6" stroke-linecap="round"/><line x1="1284.4" y1="480.9" x2="1265.4" y2="492.4" stroke="#2b3856" stroke-width="2.0" stroke-linecap="round"/><line x1="1261.9" y1="488.7" x2="1265.4" y2="492.4" stroke="#2c54a6" stroke-width="1.6" stroke-linecap="round"/>
<polygon points="429.6,757.5 1320,432 1320,467.1 542.3,757.5" fill="#94622f"/>
<line x1="517.3" y1="725" x2="526.5" y2="757.5" stroke="#f5ead6" stroke-width="1.7"/>
<line x1="620.8" y1="687" x2="633" y2="723.2" stroke="#44506e" stroke-width="1.7"/>
<line x1="722.6" y1="650" x2="733" y2="687" stroke="#f5ead6" stroke-width="1.7"/>
<line x1="820.3" y1="613.8" x2="831.3" y2="649" stroke="#f5ead6" stroke-width="1.7"/>
<line x1="914.5" y1="579.8" x2="929.3" y2="611.6" stroke="#f5ead6" stroke-width="1.7"/>
<line x1="1006.9" y1="547.4" x2="1022.8" y2="576.3" stroke="#f5ead6" stroke-width="1.7"/>
<line x1="1095.8" y1="514.6" x2="1112.7" y2="542.8" stroke="#f5ead6" stroke-width="1.7"/>
<line x1="1181.5" y1="483.6" x2="1199" y2="511" stroke="#f5ead6" stroke-width="1.7"/>
<line x1="1266" y1="452.9" x2="1284.4" y2="480.4" stroke="#f5ead6" stroke-width="1.7"/>
<line x1="429.6" y1="757.5" x2="1320" y2="432" stroke="#b4683a" stroke-width="1.1"/>
<line x1="542.3" y1="757.5" x2="1320" y2="467.1" stroke="#5a5f68" stroke-width="1.7"/>
<polygon points="838,757.5 1320,571 1320,610.8 953.5,757.5" fill="#94622f"/>
<line x1="872" y1="745" x2="876.4" y2="757" stroke="#f5ead6" stroke-width="1.7"/>
<line x1="969.9" y1="707.5" x2="987.5" y2="743.8" stroke="#f5ead6" stroke-width="1.7"/>
<line x1="1066.9" y1="669.7" x2="1084.5" y2="703.2" stroke="#f5ead6" stroke-width="1.7"/>
<line x1="1160.3" y1="634.5" x2="1179.7" y2="666.2" stroke="#f5ead6" stroke-width="1.7"/>
<line x1="1250.2" y1="599.2" x2="1269.6" y2="631" stroke="#f5ead6" stroke-width="1.7"/>
<line x1="838" y1="757.5" x2="1320" y2="571" stroke="#5a5f68" stroke-width="1.5"/>
<line x1="953.5" y1="757.5" x2="1320" y2="610.8" stroke="#7d3418" stroke-width="1.2"/>
<line x1="850" y1="753.2" x2="871" y2="745.1" stroke="#475062" stroke-width="2.4"/>
<line x1="947.9" y1="715.7" x2="968.9" y2="707.6" stroke="#475062" stroke-width="2.4"/>
<line x1="1044.9" y1="677.9" x2="1065.9" y2="669.8" stroke="#475062" stroke-width="2.4"/>
<line x1="1138.3" y1="642.7" x2="1159.3" y2="634.6" stroke="#475062" stroke-width="2.4"/>
<line x1="1228.2" y1="607.4" x2="1249.2" y2="599.3" stroke="#475062" stroke-width="2.4"/>
<line x1="1298" y1="579.7" x2="1319" y2="571.6" stroke="#475062" stroke-width="2.4"/>
<g transform="translate(247,403) rotate(-44.7) scale(1.0)"><ellipse cx="0" cy="7.5" rx="9.5" ry="6" fill="#3b3834"/><path d="M-7.7,-11 L7.7,-11 L9.3,8 L-9.3,8Z" fill="#877462" stroke="#877462" stroke-width="1.6" stroke-linejoin="round"/><rect x="-7.9" y="-11.4" width="15.8" height="4.6" rx="1.5" fill="#9b8874"/><rect x="-2.2" y="-7.8" width="4.4" height="17.1" fill="#3a332e"/><rect x="-8.9" y="-2.9" width="17.8" height="1.4" fill="#65564a"/><rect x="-9.1" y="2" width="18.2" height="1.4" fill="#5a4c42"/></g>
<g transform="translate(355.5,394.6) rotate(-35.1) scale(1.0)"><ellipse cx="0" cy="6.8" rx="9.8" ry="6.2" fill="#3b3834"/><path d="M-8,-10.2 L8,-10.2 L9.6,7.2 L-9.6,7.2Z" fill="#877462" stroke="#877462" stroke-width="1.6" stroke-linejoin="round"/><rect x="-8.2" y="-10.7" width="16.4" height="4.6" rx="1.5" fill="#9b8874"/><rect x="-2.2" y="-7" width="4.4" height="15.5" fill="#3a332e"/><rect x="-9.2" y="-2.8" width="18.4" height="1.4" fill="#65564a"/><rect x="-9.4" y="1.6" width="18.8" height="1.4" fill="#5a4c42"/></g>
<g transform="translate(381,387) rotate(-32.1) scale(1.0)"><ellipse cx="0" cy="6.8" rx="9.8" ry="6.2" fill="#3b3834"/><path d="M-8,-10.2 L8,-10.2 L9.6,7.2 L-9.6,7.2Z" fill="#877462" stroke="#877462" stroke-width="1.6" stroke-linejoin="round"/><rect x="-8.2" y="-10.7" width="16.4" height="4.6" rx="1.5" fill="#9b8874"/><rect x="-2.2" y="-7" width="4.4" height="15.5" fill="#3a332e"/><rect x="-9.2" y="-2.8" width="18.4" height="1.4" fill="#65564a"/><rect x="-9.4" y="1.6" width="18.8" height="1.4" fill="#5a4c42"/></g>
<g transform="translate(368.3,364.6) rotate(-32) scale(1.0)"><ellipse cx="0" cy="6.8" rx="9.8" ry="6.2" fill="#3b3834"/><path d="M-8,-10.3 L8,-10.3 L9.6,7.3 L-9.6,7.3Z" fill="#877462" stroke="#877462" stroke-width="1.6" stroke-linejoin="round"/><rect x="-8.2" y="-10.7" width="16.4" height="4.6" rx="1.5" fill="#9b8874"/><rect x="-2.2" y="-7.1" width="4.4" height="15.6" fill="#3a332e"/><rect x="-9.2" y="-2.8" width="18.4" height="1.4" fill="#65564a"/><rect x="-9.4" y="1.7" width="18.8" height="1.4" fill="#5a4c42"/></g>
<g transform="translate(397.6,357.6) rotate(-28.7) scale(1.0)"><ellipse cx="0" cy="6.8" rx="9.8" ry="6.2" fill="#3b3834"/><path d="M-8,-10.2 L8,-10.2 L9.6,7.2 L-9.6,7.2Z" fill="#877462" stroke="#877462" stroke-width="1.6" stroke-linejoin="round"/><rect x="-8.2" y="-10.7" width="16.4" height="4.6" rx="1.5" fill="#9b8874"/><rect x="-2.2" y="-7" width="4.4" height="15.5" fill="#3a332e"/><rect x="-9.2" y="-2.8" width="18.4" height="1.4" fill="#65564a"/><rect x="-9.4" y="1.6" width="18.8" height="1.4" fill="#5a4c42"/></g>
<g transform="translate(427,348.7) rotate(-25.3) scale(1.0)"><ellipse cx="0" cy="6.8" rx="9.8" ry="6.2" fill="#3b3834"/><path d="M-8,-10.2 L8,-10.2 L9.6,7.2 L-9.6,7.2Z" fill="#877462" stroke="#877462" stroke-width="1.6" stroke-linejoin="round"/><rect x="-8.2" y="-10.7" width="16.4" height="4.6" rx="1.5" fill="#9b8874"/><rect x="-2.2" y="-7" width="4.4" height="15.5" fill="#3a332e"/><rect x="-9.2" y="-2.8" width="18.4" height="1.4" fill="#65564a"/><rect x="-9.4" y="1.6" width="18.8" height="1.4" fill="#5a4c42"/></g>
<g transform="translate(455.6,340.4) rotate(-21.9) scale(1.0)"><ellipse cx="0" cy="6.8" rx="9.8" ry="6.2" fill="#3b3834"/><path d="M-8,-10.2 L8,-10.2 L9.6,7.2 L-9.6,7.2Z" fill="#877462" stroke="#877462" stroke-width="1.6" stroke-linejoin="round"/><rect x="-8.2" y="-10.7" width="16.4" height="4.6" rx="1.5" fill="#9b8874"/><rect x="-2.2" y="-7" width="4.4" height="15.5" fill="#3a332e"/><rect x="-9.2" y="-2.8" width="18.4" height="1.4" fill="#65564a"/><rect x="-9.4" y="1.6" width="18.8" height="1.4" fill="#5a4c42"/></g>
<g transform="translate(484.3,332.1) rotate(-18.4) scale(1.0)"><ellipse cx="0" cy="6.8" rx="9.8" ry="6.2" fill="#3b3834"/><path d="M-8,-10.2 L8,-10.2 L9.6,7.2 L-9.6,7.2Z" fill="#877462" stroke="#877462" stroke-width="1.6" stroke-linejoin="round"/><rect x="-8.2" y="-10.7" width="16.4" height="4.6" rx="1.5" fill="#9b8874"/><rect x="-2.2" y="-7" width="4.4" height="15.5" fill="#3a332e"/><rect x="-9.2" y="-2.8" width="18.4" height="1.4" fill="#65564a"/><rect x="-9.4" y="1.6" width="18.8" height="1.4" fill="#5a4c42"/></g>
<g transform="translate(540.3,312.2) rotate(-11.6) scale(1.0)"><ellipse cx="0" cy="6.8" rx="9.8" ry="6.2" fill="#3b3834"/><path d="M-8,-10.2 L8,-10.2 L9.6,7.2 L-9.6,7.2Z" fill="#877462" stroke="#877462" stroke-width="1.6" stroke-linejoin="round"/><rect x="-8.2" y="-10.7" width="16.4" height="4.6" rx="1.5" fill="#9b8874"/><rect x="-2.2" y="-7" width="4.4" height="15.5" fill="#3a332e"/><rect x="-9.2" y="-2.8" width="18.4" height="1.4" fill="#65564a"/><rect x="-9.4" y="1.6" width="18.8" height="1.4" fill="#5a4c42"/></g>
<g transform="translate(597,297.3) rotate(-4.9) scale(1.0)"><ellipse cx="0" cy="6.8" rx="9.8" ry="6.2" fill="#3b3834"/><path d="M-8,-10.2 L8,-10.2 L9.6,7.2 L-9.6,7.2Z" fill="#877462" stroke="#877462" stroke-width="1.6" stroke-linejoin="round"/><rect x="-8.2" y="-10.7" width="16.4" height="4.6" rx="1.5" fill="#9b8874"/><rect x="-2.2" y="-7" width="4.4" height="15.5" fill="#3a332e"/><rect x="-9.2" y="-2.8" width="18.4" height="1.4" fill="#65564a"/><rect x="-9.4" y="1.6" width="18.8" height="1.4" fill="#5a4c42"/></g>
<g transform="translate(624.7,289.9) rotate(-1.7) scale(1.0)"><ellipse cx="0" cy="6.8" rx="9.8" ry="6.2" fill="#3b3834"/><path d="M-8,-10.3 L8,-10.3 L9.6,7.3 L-9.6,7.3Z" fill="#877462" stroke="#877462" stroke-width="1.6" stroke-linejoin="round"/><rect x="-8.2" y="-10.7" width="16.4" height="4.6" rx="1.5" fill="#9b8874"/><rect x="-2.2" y="-7.1" width="4.4" height="15.5" fill="#3a332e"/><rect x="-9.2" y="-2.8" width="18.4" height="1.4" fill="#65564a"/><rect x="-9.4" y="1.6" width="18.8" height="1.4" fill="#5a4c42"/></g>
<g transform="translate(691.6,277.7) rotate(5.6) scale(1.0)"><ellipse cx="0" cy="7" rx="9.7" ry="6.1" fill="#3b3834"/><path d="M-7.9,-10.5 L7.9,-10.5 L9.5,7.5 L-9.5,7.5Z" fill="#877462" stroke="#877462" stroke-width="1.6" stroke-linejoin="round"/><rect x="-8.1" y="-10.9" width="16.2" height="4.6" rx="1.5" fill="#9b8874"/><rect x="-2.2" y="-7.3" width="4.4" height="16" fill="#3a332e"/><rect x="-9.1" y="-2.8" width="18.2" height="1.4" fill="#65564a"/><rect x="-9.3" y="1.7" width="18.6" height="1.4" fill="#5a4c42"/></g>
<g transform="translate(800.6,269.5) rotate(16.8) scale(1.0)"><ellipse cx="0" cy="7.5" rx="9.5" ry="6" fill="#3b3834"/><path d="M-7.7,-11 L7.7,-11 L9.3,8 L-9.3,8Z" fill="#877462" stroke="#877462" stroke-width="1.6" stroke-linejoin="round"/><rect x="-7.9" y="-11.4" width="15.9" height="4.6" rx="1.5" fill="#9b8874"/><rect x="-2.2" y="-7.8" width="4.4" height="16.9" fill="#3a332e"/><rect x="-8.9" y="-2.9" width="17.9" height="1.4" fill="#65564a"/><rect x="-9.1" y="1.9" width="18.3" height="1.4" fill="#5a4c42"/></g>
<g transform="translate(832,263.5) rotate(19.7) scale(1.0)"><ellipse cx="0" cy="7.7" rx="9.4" ry="5.9" fill="#3b3834"/><path d="M-7.6,-11.2 L7.6,-11.2 L9.2,8.2 L-9.2,8.2Z" fill="#877462" stroke="#877462" stroke-width="1.6" stroke-linejoin="round"/><rect x="-7.8" y="-11.6" width="15.7" height="4.6" rx="1.5" fill="#9b8874"/><rect x="-2.2" y="-8" width="4.4" height="17.4" fill="#3a332e"/><rect x="-8.8" y="-2.9" width="17.7" height="1.4" fill="#65564a"/><rect x="-9" y="2.1" width="18.1" height="1.4" fill="#5a4c42"/></g>
<g transform="translate(810.5,233.5) rotate(16.8) scale(1.0)"><ellipse cx="0" cy="8.1" rx="9.3" ry="5.8" fill="#3b3834"/><path d="M-7.5,-11.6 L7.5,-11.6 L9.1,8.6 L-9.1,8.6Z" fill="#877462" stroke="#877462" stroke-width="1.6" stroke-linejoin="round"/><rect x="-7.7" y="-12" width="15.4" height="4.6" rx="1.5" fill="#9b8874"/><rect x="-2.2" y="-8.4" width="4.4" height="18.1" fill="#3a332e"/><rect x="-8.7" y="-3" width="17.4" height="1.4" fill="#65564a"/><rect x="-8.9" y="2.2" width="17.8" height="1.4" fill="#5a4c42"/></g>
<g transform="translate(838.7,235) rotate(19.4) scale(1.0)"><ellipse cx="0" cy="8.2" rx="9.2" ry="5.8" fill="#3b3834"/><path d="M-7.4,-11.7 L7.4,-11.7 L9,8.7 L-9,8.7Z" fill="#877462" stroke="#877462" stroke-width="1.6" stroke-linejoin="round"/><rect x="-7.6" y="-12.1" width="15.3" height="4.6" rx="1.5" fill="#9b8874"/><rect x="-2.2" y="-8.5" width="4.4" height="18.3" fill="#3a332e"/><rect x="-8.6" y="-3" width="17.3" height="1.4" fill="#65564a"/><rect x="-8.8" y="2.3" width="17.7" height="1.4" fill="#5a4c42"/></g>
<g transform="translate(1034,167) rotate(31.9) scale(1.0)"><ellipse cx="0" cy="10.5" rx="8.3" ry="5.1" fill="#3b3834"/><path d="M-6.5,-14 L6.5,-14 L8.1,11 L-8.1,11Z" fill="#877462" stroke="#877462" stroke-width="1.6" stroke-linejoin="round"/><rect x="-6.7" y="-14.4" width="13.5" height="4.6" rx="1.5" fill="#9b8874"/><rect x="-2.2" y="-10.8" width="4.4" height="23" fill="#3a332e"/><rect x="-7.7" y="-3.2" width="15.5" height="1.4" fill="#65564a"/><rect x="-7.9" y="3.3" width="15.9" height="1.4" fill="#5a4c42"/></g>
<g transform="translate(1067.5,191.6) rotate(35.1) scale(1.0)"><ellipse cx="0" cy="10.5" rx="8.4" ry="5.1" fill="#3b3834"/><path d="M-6.6,-14 L6.6,-14 L8.2,11 L-8.2,11Z" fill="#877462" stroke="#877462" stroke-width="1.6" stroke-linejoin="round"/><rect x="-6.8" y="-14.4" width="13.5" height="4.6" rx="1.5" fill="#9b8874"/><rect x="-2.2" y="-10.8" width="4.4" height="23" fill="#3a332e"/><rect x="-7.8" y="-3.2" width="15.5" height="1.4" fill="#65564a"/><rect x="-8" y="3.3" width="15.9" height="1.4" fill="#5a4c42"/></g>
<g transform="translate(1005.6,210.2) rotate(31.8) scale(1.0)"><ellipse cx="0" cy="9.7" rx="8.7" ry="5.4" fill="#3b3834"/><path d="M-6.9,-13.2 L6.9,-13.2 L8.5,10.2 L-8.5,10.2Z" fill="#877462" stroke="#877462" stroke-width="1.6" stroke-linejoin="round"/><rect x="-7.1" y="-13.6" width="14.1" height="4.6" rx="1.5" fill="#9b8874"/><rect x="-2.2" y="-10" width="4.4" height="21.4" fill="#3a332e"/><rect x="-8.1" y="-3.1" width="16.1" height="1.4" fill="#65564a"/><rect x="-8.3" y="2.9" width="16.5" height="1.4" fill="#5a4c42"/></g>
<g transform="translate(1160,40) rotate(34.4) scale(1.0)"><ellipse cx="0" cy="13.3" rx="7.3" ry="4.4" fill="#3b3834"/><path d="M-5.5,-16.8 L5.5,-16.8 L7.1,13.8 L-7.1,13.8Z" fill="#877462" stroke="#877462" stroke-width="1.6" stroke-linejoin="round"/><rect x="-5.7" y="-17.2" width="11.3" height="4.6" rx="1.5" fill="#9b8874"/><rect x="-2.2" y="-13.6" width="4.4" height="28.6" fill="#3a332e"/><rect x="-6.7" y="-3.5" width="13.3" height="1.4" fill="#65564a"/><rect x="-6.9" y="4.5" width="13.7" height="1.4" fill="#5a4c42"/></g>
<g transform="translate(1165,190) rotate(40.7) scale(1.0)"><ellipse cx="0" cy="11.5" rx="8" ry="4.9" fill="#3b3834"/><path d="M-6.2,-15 L6.2,-15 L7.8,12 L-7.8,12Z" fill="#877462" stroke="#877462" stroke-width="1.6" stroke-linejoin="round"/><rect x="-6.4" y="-15.4" width="12.7" height="4.6" rx="1.5" fill="#9b8874"/><rect x="-2.2" y="-11.8" width="4.4" height="24.9" fill="#3a332e"/><rect x="-7.4" y="-3.3" width="14.7" height="1.4" fill="#65564a"/><rect x="-7.6" y="3.7" width="15.1" height="1.4" fill="#5a4c42"/></g>
<g transform="translate(134.3,611.8) rotate(7) scale(1.1,1.1)"><ellipse cx="5" cy="2.2" rx="10.8" ry="7.4" fill="#3b3833"/><rect x="3" y="-6.5" width="6.5" height="11" rx="1.5" fill="#6f5e4c"/><rect x="-15.5" y="-8.5" width="19.5" height="13.5" rx="1.8" fill="#887461"/><rect x="-15.5" y="-8.5" width="19.5" height="3.4" rx="1.4" fill="#998570"/><rect x="-15.5" y="-3" width="5" height="6" fill="#5a4c3f"/><rect x="-8" y="2.2" width="12" height="3" fill="#5b4d40"/></g>
<g transform="translate(138,654) rotate(7) scale(1.1,1.1)"><ellipse cx="5" cy="2.2" rx="10.8" ry="7.4" fill="#3b3833"/><rect x="3" y="-6.5" width="6.5" height="11" rx="1.5" fill="#6f5e4c"/><rect x="-15.5" y="-8.5" width="19.5" height="13.5" rx="1.8" fill="#887461"/><rect x="-15.5" y="-8.5" width="19.5" height="3.4" rx="1.4" fill="#998570"/><rect x="-15.5" y="-3" width="5" height="6" fill="#5a4c3f"/><rect x="-8" y="2.2" width="12" height="3" fill="#5b4d40"/></g>
<g transform="translate(137.8,470.7) rotate(7) scale(1.1,1.1)"><ellipse cx="5" cy="2.2" rx="10.8" ry="7.4" fill="#3b3833"/><rect x="3" y="-6.5" width="6.5" height="11" rx="1.5" fill="#6f5e4c"/><rect x="-15.5" y="-8.5" width="19.5" height="13.5" rx="1.8" fill="#887461"/><rect x="-15.5" y="-8.5" width="19.5" height="3.4" rx="1.4" fill="#998570"/><rect x="-15.5" y="-3" width="5" height="6" fill="#5a4c3f"/><rect x="-8" y="2.2" width="12" height="3" fill="#5b4d40"/></g>
<g transform="translate(252,691.6) rotate(3) scale(1,1)"><ellipse cx="5" cy="2.2" rx="10.8" ry="7.4" fill="#3b3833"/><rect x="3" y="-6.5" width="6.5" height="11" rx="1.5" fill="#6f5e4c"/><rect x="-15.5" y="-8.5" width="19.5" height="13.5" rx="1.8" fill="#887461"/><rect x="-15.5" y="-8.5" width="19.5" height="3.4" rx="1.4" fill="#998570"/><rect x="-15.5" y="-3" width="5" height="6" fill="#5a4c3f"/><rect x="-8" y="2.2" width="12" height="3" fill="#5b4d40"/></g>
<g transform="translate(287,679.5) rotate(3) scale(1,1)"><ellipse cx="5" cy="2.2" rx="10.8" ry="7.4" fill="#3b3833"/><rect x="3" y="-6.5" width="6.5" height="11" rx="1.5" fill="#6f5e4c"/><rect x="-15.5" y="-8.5" width="19.5" height="13.5" rx="1.8" fill="#887461"/><rect x="-15.5" y="-8.5" width="19.5" height="3.4" rx="1.4" fill="#998570"/><rect x="-15.5" y="-3" width="5" height="6" fill="#5a4c3f"/><rect x="-8" y="2.2" width="12" height="3" fill="#5b4d40"/></g>
<g transform="translate(321.6,667.3) rotate(3) scale(1,1)"><ellipse cx="5" cy="2.2" rx="10.8" ry="7.4" fill="#3b3833"/><rect x="3" y="-6.5" width="6.5" height="11" rx="1.5" fill="#6f5e4c"/><rect x="-15.5" y="-8.5" width="19.5" height="13.5" rx="1.8" fill="#887461"/><rect x="-15.5" y="-8.5" width="19.5" height="3.4" rx="1.4" fill="#998570"/><rect x="-15.5" y="-3" width="5" height="6" fill="#5a4c3f"/><rect x="-8" y="2.2" width="12" height="3" fill="#5b4d40"/></g>
<g transform="translate(356,655.8) rotate(3) scale(1,1)"><ellipse cx="5" cy="2.2" rx="10.8" ry="7.4" fill="#3b3833"/><rect x="3" y="-6.5" width="6.5" height="11" rx="1.5" fill="#6f5e4c"/><rect x="-15.5" y="-8.5" width="19.5" height="13.5" rx="1.8" fill="#887461"/><rect x="-15.5" y="-8.5" width="19.5" height="3.4" rx="1.4" fill="#998570"/><rect x="-15.5" y="-3" width="5" height="6" fill="#5a4c3f"/><rect x="-8" y="2.2" width="12" height="3" fill="#5b4d40"/></g>
<g transform="translate(389.8,644.3) rotate(3) scale(1,1)"><ellipse cx="5" cy="2.2" rx="10.8" ry="7.4" fill="#3b3833"/><rect x="3" y="-6.5" width="6.5" height="11" rx="1.5" fill="#6f5e4c"/><rect x="-15.5" y="-8.5" width="19.5" height="13.5" rx="1.8" fill="#887461"/><rect x="-15.5" y="-8.5" width="19.5" height="3.4" rx="1.4" fill="#998570"/><rect x="-15.5" y="-3" width="5" height="6" fill="#5a4c3f"/><rect x="-8" y="2.2" width="12" height="3" fill="#5b4d40"/></g>
<g transform="translate(408,731) rotate(3) scale(1,1)"><ellipse cx="5" cy="2.2" rx="10.8" ry="7.4" fill="#3b3833"/><rect x="3" y="-6.5" width="6.5" height="11" rx="1.5" fill="#6f5e4c"/><rect x="-15.5" y="-8.5" width="19.5" height="13.5" rx="1.8" fill="#887461"/><rect x="-15.5" y="-8.5" width="19.5" height="3.4" rx="1.4" fill="#998570"/><rect x="-15.5" y="-3" width="5" height="6" fill="#5a4c3f"/><rect x="-8" y="2.2" width="12" height="3" fill="#5b4d40"/></g>
<g transform="translate(489.8,608.9)"><ellipse cx="3.5" cy="5.5" rx="9" ry="8.2" fill="#3a3733"/><g transform="rotate(-14)"><rect x="-10" y="-8.5" width="20" height="17" rx="2" fill="#86735f"/><rect x="-10" y="-8.5" width="9.6" height="17" rx="2" fill="#917d68"/><rect x="-9" y="4.5" width="18" height="4" rx="1.5" fill="#6b5b4b"/></g></g>
<g transform="translate(547.5,642.3)"><ellipse cx="5.5" cy="1.5" rx="9" ry="8.2" fill="#3a3733"/><g transform="rotate(-14)"><rect x="-7.8" y="-10.5" width="15.5" height="21" rx="2" fill="#86735f"/><rect x="-7.8" y="-10.5" width="7.4" height="21" rx="2" fill="#917d68"/><rect x="-6.8" y="6.5" width="13.5" height="4" rx="1.5" fill="#6b5b4b"/></g></g>
<g transform="translate(552.9,678.3)"><ellipse cx="0" cy="-4" rx="9" ry="8.2" fill="#3a3733"/><g transform="rotate(-14)"><rect x="-10" y="-8.5" width="20" height="17" rx="2" fill="#86735f"/><rect x="-10" y="-8.5" width="9.6" height="17" rx="2" fill="#917d68"/><rect x="-9" y="4.5" width="18" height="4" rx="1.5" fill="#6b5b4b"/></g></g>
<g transform="translate(805.5,592)"><ellipse cx="-3" cy="3" rx="9" ry="8.2" fill="#3a3733"/><g transform="rotate(18)"><rect x="-9" y="-8" width="18" height="16" rx="2" fill="#86735f"/><rect x="-9" y="-8" width="8.6" height="16" rx="2" fill="#917d68"/><rect x="-8" y="4" width="16" height="4" rx="1.5" fill="#6b5b4b"/></g></g>
<g transform="translate(947,453) rotate(-27) scale(-0.9,0.9)"><ellipse cx="5" cy="2.2" rx="10.8" ry="7.4" fill="#3b3833"/><rect x="3" y="-6.5" width="6.5" height="11" rx="1.5" fill="#6f5e4c"/><rect x="-15.5" y="-8.5" width="19.5" height="13.5" rx="1.8" fill="#887461"/><rect x="-15.5" y="-8.5" width="19.5" height="3.4" rx="1.4" fill="#998570"/><rect x="-15.5" y="-3" width="5" height="6" fill="#5a4c3f"/><rect x="-8" y="2.2" width="12" height="3" fill="#5b4d40"/></g>
<g transform="translate(1092.6,445) rotate(-27) scale(-0.9,0.9)"><ellipse cx="5" cy="2.2" rx="10.8" ry="7.4" fill="#3b3833"/><rect x="3" y="-6.5" width="6.5" height="11" rx="1.5" fill="#6f5e4c"/><rect x="-15.5" y="-8.5" width="19.5" height="13.5" rx="1.8" fill="#887461"/><rect x="-15.5" y="-8.5" width="19.5" height="3.4" rx="1.4" fill="#998570"/><rect x="-15.5" y="-3" width="5" height="6" fill="#5a4c3f"/><rect x="-8" y="2.2" width="12" height="3" fill="#5b4d40"/></g>
<g transform="translate(1234.3,435.3) rotate(-27) scale(-0.9,0.9)"><ellipse cx="5" cy="2.2" rx="10.8" ry="7.4" fill="#3b3833"/><rect x="3" y="-6.5" width="6.5" height="11" rx="1.5" fill="#6f5e4c"/><rect x="-15.5" y="-8.5" width="19.5" height="13.5" rx="1.8" fill="#887461"/><rect x="-15.5" y="-8.5" width="19.5" height="3.4" rx="1.4" fill="#998570"/><rect x="-15.5" y="-3" width="5" height="6" fill="#5a4c3f"/><rect x="-8" y="2.2" width="12" height="3" fill="#5b4d40"/></g>
<g transform="translate(984,527) rotate(-27) scale(-0.9,0.9)"><ellipse cx="5" cy="2.2" rx="10.8" ry="7.4" fill="#3b3833"/><rect x="3" y="-6.5" width="6.5" height="11" rx="1.5" fill="#6f5e4c"/><rect x="-15.5" y="-8.5" width="19.5" height="13.5" rx="1.8" fill="#887461"/><rect x="-15.5" y="-8.5" width="19.5" height="3.4" rx="1.4" fill="#998570"/><rect x="-15.5" y="-3" width="5" height="6" fill="#5a4c3f"/><rect x="-8" y="2.2" width="12" height="3" fill="#5b4d40"/></g>
<path d="M246.3,382 L251.6,393.7 M246.3,382 L256.8,384.9" stroke="#1d1c1a" stroke-width="3" stroke-linecap="round" fill="none"/><path d="M236.4,379.2 L240.2,386.7 M242.5,372.5 L250.7,377.2" stroke="#6a563c" stroke-width="1.8" stroke-linecap="round" fill="none"/><ellipse cx="242.6" cy="378.7" rx="5" ry="7.1" transform="rotate(-47.6 242.6 378.7)" fill="#b1af36"/><ellipse cx="240.9" cy="378.2" rx="2.8" ry="3.9" transform="rotate(-47.6 240.9 378.2)" fill="#cfcb48"/><circle cx="235.6" cy="372.3" r="3" fill="#1f1b17"/>
<path d="M349,351.5 L351.5,360.7 M349,351.5 L355.6,356" stroke="#1d1c1a" stroke-width="3" stroke-linecap="round" fill="none"/><path d="M341.3,348.1 L342.2,354.8 M348.8,343.1 L354.4,347.9" stroke="#6a563c" stroke-width="1.8" stroke-linecap="round" fill="none"/><ellipse cx="346.8" cy="348.3" rx="5" ry="5.4" transform="rotate(-33.8 346.8 348.3)" fill="#b1af36"/><ellipse cx="345.5" cy="347.8" rx="2.8" ry="3" transform="rotate(-33.8 345.5 347.8)" fill="#cfcb48"/><circle cx="342.8" cy="342.3" r="3" fill="#1f1b17"/>
<path d="M382.3,342.2 L383.2,353.6 M382.3,342.2 L391.8,345.1" stroke="#1d1c1a" stroke-width="3" stroke-linecap="round" fill="none"/><path d="M374.2,338.8 L375.6,345.8 M381.5,333.5 L387.5,338.4" stroke="#6a563c" stroke-width="1.8" stroke-linecap="round" fill="none"/><ellipse cx="379.9" cy="338.9" rx="5" ry="5.8" transform="rotate(-36.3 379.9 338.9)" fill="#b1af36"/><ellipse cx="378.5" cy="338.4" rx="2.8" ry="3.2" transform="rotate(-36.3 378.5 338.4)" fill="#cfcb48"/><circle cx="375.3" cy="332.7" r="3" fill="#1f1b17"/>
<path d="M538.3,296.3 L536.1,306.7 M538.3,296.3 L543.6,303.6" stroke="#1d1c1a" stroke-width="3" stroke-linecap="round" fill="none"/><path d="M532.5,289.6 L530.7,296.6 M541.4,288 L544.7,295.2" stroke="#6a563c" stroke-width="1.8" stroke-linecap="round" fill="none"/><ellipse cx="537.6" cy="292.2" rx="5" ry="5.9" transform="rotate(-10 537.6 292.2)" fill="#b1af36"/><ellipse cx="536.6" cy="291.1" rx="2.8" ry="3.3" transform="rotate(-10 536.6 291.1)" fill="#cfcb48"/><circle cx="536.2" cy="284.5" r="3" fill="#1f1b17"/>
<path d="M672.5,257.8 L667,268.3 M672.5,257.8 L678.9,265.9" stroke="#1d1c1a" stroke-width="3" stroke-linecap="round" fill="none"/><path d="M667.7,250 L665,257 M676.7,249.6 L679,257.5" stroke="#6a563c" stroke-width="1.8" stroke-linecap="round" fill="none"/><ellipse cx="672.4" cy="253.5" rx="5" ry="6.1" transform="rotate(-2.5 672.4 253.5)" fill="#b1af36"/><ellipse cx="671.5" cy="252.1" rx="2.8" ry="3.4" transform="rotate(-2.5 671.5 252.1)" fill="#cfcb48"/><circle cx="672" cy="245.3" r="3" fill="#1f1b17"/>
<path d="M745.1,279.6 L742,289.4 M745.1,279.6 L749.8,286.9" stroke="#1d1c1a" stroke-width="3" stroke-linecap="round" fill="none"/><path d="M739.9,272.6 L737.5,279.2 M748.9,271.8 L751.6,278.9" stroke="#6a563c" stroke-width="1.8" stroke-linecap="round" fill="none"/><ellipse cx="744.7" cy="275.6" rx="5" ry="5.7" transform="rotate(-5.4 744.7 275.6)" fill="#b1af36"/><ellipse cx="743.8" cy="274.4" rx="2.8" ry="3.2" transform="rotate(-5.4 743.8 274.4)" fill="#cfcb48"/><circle cx="744" cy="268" r="3" fill="#1f1b17"/>
<path d="M747.3,303 L743.5,312.1 M747.3,303 L751.5,310.3" stroke="#1d1c1a" stroke-width="3" stroke-linecap="round" fill="none"/><path d="M742.6,296.1 L739.8,302.2 M751.6,295.9 L753.8,302.8" stroke="#6a563c" stroke-width="1.8" stroke-linecap="round" fill="none"/><ellipse cx="747.2" cy="299.2" rx="5" ry="5.4" transform="rotate(-1.4 747.2 299.2)" fill="#b1af36"/><ellipse cx="746.4" cy="298" rx="2.8" ry="3" transform="rotate(-1.4 746.4 298)" fill="#cfcb48"/><circle cx="747" cy="292" r="3" fill="#1f1b17"/>
<path d="M790.5,220.2 L783.2,227.6 M790.5,220.2 L793.3,228.8" stroke="#1d1c1a" stroke-width="3" stroke-linecap="round" fill="none"/><path d="M788.1,212.2 L783.5,217.2 M796.7,214.6 L796.7,222" stroke="#6a563c" stroke-width="1.8" stroke-linecap="round" fill="none"/><ellipse cx="791.5" cy="216.5" rx="5" ry="5.5" transform="rotate(15.8 791.5 216.5)" fill="#b1af36"/><ellipse cx="791.1" cy="215.1" rx="2.8" ry="3" transform="rotate(15.8 791.1 215.1)" fill="#cfcb48"/><circle cx="793.5" cy="209.5" r="3" fill="#1f1b17"/>
<path d="M1014.8,155 L1005.1,159.2 M1014.8,155 L1012.1,163.5" stroke="#1d1c1a" stroke-width="3" stroke-linecap="round" fill="none"/><path d="M1016.8,146.5 L1010.1,149 M1023.2,152.7 L1019.4,159.5" stroke="#6a563c" stroke-width="1.8" stroke-linecap="round" fill="none"/><ellipse cx="1017.6" cy="152.1" rx="5" ry="5.8" transform="rotate(44.1 1017.6 152.1)" fill="#b1af36"/><ellipse cx="1017.9" cy="150.6" rx="2.8" ry="3.2" transform="rotate(44.1 1017.9 150.6)" fill="#cfcb48"/><circle cx="1023" cy="146.5" r="3" fill="#1f1b17"/>
<path d="M872.7,261.4 L864.6,266.9 M872.7,261.4 L872.2,269.7" stroke="#1d1c1a" stroke-width="3" stroke-linecap="round" fill="none"/><path d="M872.6,253 L866.9,256.6 M880.2,257.8 L878.3,264.8" stroke="#6a563c" stroke-width="1.8" stroke-linecap="round" fill="none"/><ellipse cx="874.7" cy="258.1" rx="5" ry="5.4" transform="rotate(31.7 874.7 258.1)" fill="#b1af36"/><ellipse cx="874.7" cy="256.7" rx="2.8" ry="3" transform="rotate(31.7 874.7 256.7)" fill="#cfcb48"/><circle cx="878.5" cy="252" r="3" fill="#1f1b17"/>
<path d="M253.8,671 L265,677.9 M253.8,671 L264.8,669.6" stroke="#1d1c1a" stroke-width="3" stroke-linecap="round" fill="none"/><path d="M243.2,673 L250.6,677.9 M245.3,664.3 L255.3,664.7" stroke="#6a563c" stroke-width="1.8" stroke-linecap="round" fill="none"/><ellipse cx="248.6" cy="669.7" rx="5" ry="7.6" transform="rotate(-76.2 248.6 669.7)" fill="#b1af36"/><ellipse cx="246.8" cy="670.1" rx="2.8" ry="4.2" transform="rotate(-76.2 246.8 670.1)" fill="#cfcb48"/><circle cx="238.8" cy="667.3" r="3" fill="#1f1b17"/>
<path d="M255,736.9 L263.5,742 M255,736.9 L262.9,733.8" stroke="#1d1c1a" stroke-width="3" stroke-linecap="round" fill="none"/><path d="M247.4,740.5 L253.1,744.2 M248.6,731.5 L255.8,730.4" stroke="#6a563c" stroke-width="1.8" stroke-linecap="round" fill="none"/><ellipse cx="251.2" cy="736.4" rx="5" ry="5.4" transform="rotate(-82.9 251.2 736.4)" fill="#b1af36"/><ellipse cx="249.9" cy="737" rx="2.8" ry="3" transform="rotate(-82.9 249.9 737)" fill="#cfcb48"/><circle cx="244" cy="735.5" r="3" fill="#1f1b17"/>
<path d="M556.7,698.4 L557.4,705.5 M556.7,698.4 L562,701.5" stroke="#1d1c1a" stroke-width="3" stroke-linecap="round" fill="none"/><path d="M550.2,696.3 L549.8,701.6 M558,691.7 L562.3,695.1" stroke="#6a563c" stroke-width="1.8" stroke-linecap="round" fill="none"/><ellipse cx="555.3" cy="696" rx="5" ry="3.9" transform="rotate(-30.6 555.3 696)" fill="#b1af36"/><ellipse cx="554.1" cy="695.7" rx="2.8" ry="2.2" transform="rotate(-30.6 554.1 695.7)" fill="#cfcb48"/><circle cx="552.6" cy="691.5" r="3" fill="#1f1b17"/>
<path d="M1245,449.3 L1235.1,449.1 M1245,449.3 L1238.5,454.4" stroke="#1d1c1a" stroke-width="3" stroke-linecap="round" fill="none"/><path d="M1250.7,442.9 L1243.8,441.8 M1253.3,451.5 L1246.9,455.5" stroke="#6a563c" stroke-width="1.8" stroke-linecap="round" fill="none"/><ellipse cx="1248.8" cy="448.2" rx="5" ry="5.6" transform="rotate(73.3 1248.8 448.2)" fill="#b1af36"/><ellipse cx="1249.8" cy="447" rx="2.8" ry="3.1" transform="rotate(73.3 1249.8 447)" fill="#cfcb48"/><circle cx="1256" cy="446" r="3" fill="#1f1b17"/>
<path d="M988.5,539.8 L979.2,539.1 M988.5,539.8 L982.3,544.5" stroke="#1d1c1a" stroke-width="3" stroke-linecap="round" fill="none"/><path d="M994.1,533.6 L987.6,532.2 M996.3,542.4 L990.2,546" stroke="#6a563c" stroke-width="1.8" stroke-linecap="round" fill="none"/><ellipse cx="992.2" cy="538.8" rx="5" ry="5.3" transform="rotate(75.3 992.2 538.8)" fill="#b1af36"/><ellipse cx="993.1" cy="537.7" rx="2.8" ry="2.9" transform="rotate(75.3 993.1 537.7)" fill="#cfcb48"/><circle cx="999" cy="537" r="3" fill="#1f1b17"/>
<path d="M1297.2,729.6 L1285.5,727 M1297.2,729.6 L1288.5,734.7" stroke="#1d1c1a" stroke-width="3" stroke-linecap="round" fill="none"/><path d="M1305.5,724.1 L1297.6,722.1 M1306.5,733.1 L1298,736.1" stroke="#6a563c" stroke-width="1.8" stroke-linecap="round" fill="none"/><ellipse cx="1302" cy="729.1" rx="5" ry="6.8" transform="rotate(83.2 1302 729.1)" fill="#b1af36"/><ellipse cx="1303.4" cy="728.1" rx="2.8" ry="3.8" transform="rotate(83.2 1303.4 728.1)" fill="#cfcb48"/><circle cx="1311" cy="728" r="3" fill="#1f1b17"/>
</g>
<defs><clipPath id="cb"><rect x="28" y="802" width="1266" height="677"/></clipPath><filter id="hb" x="-20%" y="-20%" width="140%" height="140%"><feGaussianBlur stdDeviation="0.7"/></filter><filter id="halo" x="-15%" y="-35%" width="130%" height="170%"><feMorphology in="SourceAlpha" operator="dilate" radius="1.3" result="d"/><feGaussianBlur in="d" stdDeviation="0.35" result="b"/><feFlood flood-color="#fdfdfb"/><feComposite in2="b" operator="in" result="h"/><feMerge><feMergeNode in="h"/><feMergeNode in="h"/><feMergeNode in="SourceGraphic"/></feMerge></filter></defs>
<g clip-path="url(#cb)">
<rect x="28" y="802" width="1266" height="677" fill="#fdfdfb"/>
<path d="M28,1145.2 L1237,1233.6" fill="none" stroke="#1010a4" stroke-width="2.9"/>
<path d="M158,1187.2 L228,1186.9 L310,1184.7 L430,1174.3 L772,1143.2 L860,1136.8 L1000.7,1124.1" fill="none" stroke="#1010a4" stroke-width="2.9" stroke-linejoin="round"/>
<circle cx="157.9" cy="1187.1" r="6.7" fill="#1c20dc" stroke="#14148e" stroke-width="0.9"/>
<path d="M20,804 L54,804 L54,1069.7 L20,1069.7 M177.8,1069.7 L177.8,804 L242.1,804 L242.1,1069.7 L177.8,1069.7 M371.3,1069.7 L371.3,804 L435.8,804 L435.8,1069.7 L371.3,1069.7 M560.5,1069.7 L560.5,804 L624.8,804 L624.8,1069.7 L560.5,1069.7 M754.0,1069.7 L754.0,804 L818.5,804 L818.5,1069.7 L754.0,1069.7 M942.7,1069.7 L942.7,804 L1007.1,804 L1007.1,1069.7 L942.7,1069.7 M1136.4,1069.7 L1136.4,804 L1200.8,804 L1200.8,1069.7 L1136.4,1069.7 M1327.5,1069.7 L1327.5,804" fill="none" stroke="#050505" stroke-width="4.6" stroke-linejoin="miter"/>
<path d=" M118,1490 L118,1329.4 L177.1,1329.4 L177.1,1490 M306.5,1490 L306.5,1329.4 L371.6,1329.4 L371.6,1490 M500.6,1490 L500.6,1329.4 L560,1329.4 L560,1490 M689,1490 L689,1329.4 L754.2,1329.4 L754.2,1490 M882.9,1490 L882.9,1329.4 L942.4,1329.4 L942.4,1490 M1072.3,1490 L1072.3,1329.4 L1136.7,1329.4 L1136.7,1490 M1267.4,1490 L1267.4,1329.4 L1331,1329.4 L1331,1490" fill="none" stroke="#050505" stroke-width="4.6" stroke-linejoin="miter"/>
<circle cx="213.4" cy="1070" r="3" fill="#df2a12"/><line x1="233" y1="1071.6" x2="236.4" y2="1066.5" stroke="#df2a12" stroke-width="4.6" stroke-linecap="round"/><circle cx="232.8" cy="1071.4" r="2.7" fill="#df2a12"/><circle cx="234.8" cy="1069.1" r="2.6" fill="#df2a12"/><circle cx="236.3" cy="1066.5" r="2.8" fill="#df2a12"/><line x1="236.4" y1="1066.5" x2="237.3" y2="1060.2" stroke="#df2a12" stroke-width="4.9" stroke-linecap="round"/><circle cx="236.6" cy="1066.5" r="2.8" fill="#df2a12"/><circle cx="237.1" cy="1063.4" r="3.1" fill="#df2a12"/><circle cx="237.4" cy="1060.2" r="2.9" fill="#df2a12"/><circle cx="383.3" cy="1070.6" r="2.8" fill="#df2a12"/><circle cx="391.5" cy="1070.6" r="2.8" fill="#df2a12"/><circle cx="400.9" cy="1070.6" r="2.8" fill="#df2a12"/><circle cx="411" cy="1070.6" r="2.8" fill="#df2a12"/><circle cx="419.3" cy="1070.6" r="2.8" fill="#df2a12"/><circle cx="427.5" cy="1070.6" r="2.8" fill="#df2a12"/><line x1="431.6" y1="1069.5" x2="432.2" y2="1039.5" stroke="#df2a12" stroke-width="5.1" stroke-linecap="round"/><circle cx="430.8" cy="1069.5" r="3.1" fill="#df2a12"/><circle cx="431.5" cy="1065.2" r="2.7" fill="#df2a12"/><circle cx="432.2" cy="1060.9" r="2.9" fill="#df2a12"/><circle cx="432.2" cy="1056.6" r="3.4" fill="#df2a12"/><circle cx="431.8" cy="1052.4" r="3" fill="#df2a12"/><circle cx="431.7" cy="1048.1" r="2.8" fill="#df2a12"/><circle cx="432.4" cy="1043.8" r="2.8" fill="#df2a12"/><circle cx="431.7" cy="1039.5" r="2.7" fill="#df2a12"/>
<path d="M157.91,802.41A1 1 0 0 1 157.91,800.99L179.19,779.71A4.4 4.4 0 0 1 186.70,782.82L186.70,820.58A4.4 4.4 0 0 1 179.19,823.69Z" fill="#467a29" stroke="#050505" stroke-width="3.5" stroke-linejoin="round"/><path d="M157.91,1070.91A1 1 0 0 1 157.91,1069.49L179.19,1048.21A4.4 4.4 0 0 1 186.70,1051.32L186.70,1089.08A4.4 4.4 0 0 1 179.19,1092.19Z" fill="#467a29" stroke="#050505" stroke-width="3.5" stroke-linejoin="round"/><path d="M134.59,1020.31A2 2 0 0 1 137.41,1020.31L147.47,1030.37A2.3 2.3 0 0 1 145.85,1034.30L140.4,1034.3L140.40,1061.10A0.7 0.7 0 0 1 139.70,1061.80L132.30,1061.80A0.7 0.7 0 0 1 131.60,1061.10L131.6,1034.3L126.15,1034.30A2.3 2.3 0 0 1 124.53,1030.37Z" fill="#467a29" stroke="#3b6b22" stroke-width="0.8"/><path d="M351.41,802.41A1 1 0 0 1 351.41,800.99L372.69,779.71A4.4 4.4 0 0 1 380.20,782.82L380.20,820.58A4.4 4.4 0 0 1 372.69,823.69Z" fill="#467a29" stroke="#050505" stroke-width="3.5" stroke-linejoin="round"/><path d="M351.41,1070.91A1 1 0 0 1 351.41,1069.49L372.69,1048.21A4.4 4.4 0 0 1 380.20,1051.32L380.20,1089.08A4.4 4.4 0 0 1 372.69,1092.19Z" fill="#467a29" stroke="#050505" stroke-width="3.5" stroke-linejoin="round"/><path d="M328.09,1020.31A2 2 0 0 1 330.91,1020.31L340.97,1030.37A2.3 2.3 0 0 1 339.35,1034.30L333.9,1034.3L333.90,1061.10A0.7 0.7 0 0 1 333.20,1061.80L325.80,1061.80A0.7 0.7 0 0 1 325.10,1061.10L325.1,1034.3L319.65,1034.30A2.3 2.3 0 0 1 318.03,1030.37Z" fill="#467a29" stroke="#3b6b22" stroke-width="0.8"/><path d="M540.61,802.41A1 1 0 0 1 540.61,800.99L561.89,779.71A4.4 4.4 0 0 1 569.40,782.82L569.40,820.58A4.4 4.4 0 0 1 561.89,823.69Z" fill="#467a29" stroke="#050505" stroke-width="3.5" stroke-linejoin="round"/><path d="M540.61,1070.91A1 1 0 0 1 540.61,1069.49L561.89,1048.21A4.4 4.4 0 0 1 569.40,1051.32L569.40,1089.08A4.4 4.4 0 0 1 561.89,1092.19Z" fill="#467a29" stroke="#050505" stroke-width="3.5" stroke-linejoin="round"/><path d="M517.29,1020.31A2 2 0 0 1 520.11,1020.31L530.17,1030.37A2.3 2.3 0 0 1 528.55,1034.30L523.1,1034.3L523.10,1061.10A0.7 0.7 0 0 1 522.40,1061.80L515.00,1061.80A0.7 0.7 0 0 1 514.30,1061.10L514.3,1034.3L508.85,1034.30A2.3 2.3 0 0 1 507.23,1030.37Z" fill="#467a29" stroke="#3b6b22" stroke-width="0.8"/><path d="M734.11,802.41A1 1 0 0 1 734.11,800.99L755.39,779.71A4.4 4.4 0 0 1 762.90,782.82L762.90,820.58A4.4 4.4 0 0 1 755.39,823.69Z" fill="#467a29" stroke="#050505" stroke-width="3.5" stroke-linejoin="round"/><path d="M734.11,1070.91A1 1 0 0 1 734.11,1069.49L755.39,1048.21A4.4 4.4 0 0 1 762.90,1051.32L762.90,1089.08A4.4 4.4 0 0 1 755.39,1092.19Z" fill="#467a29" stroke="#050505" stroke-width="3.5" stroke-linejoin="round"/><path d="M710.79,1020.31A2 2 0 0 1 713.61,1020.31L723.67,1030.37A2.3 2.3 0 0 1 722.05,1034.30L716.6,1034.3L716.60,1061.10A0.7 0.7 0 0 1 715.90,1061.80L708.50,1061.80A0.7 0.7 0 0 1 707.80,1061.10L707.8,1034.3L702.35,1034.30A2.3 2.3 0 0 1 700.73,1030.37Z" fill="#467a29" stroke="#3b6b22" stroke-width="0.8"/><path d="M922.81,802.41A1 1 0 0 1 922.81,800.99L944.09,779.71A4.4 4.4 0 0 1 951.60,782.82L951.60,820.58A4.4 4.4 0 0 1 944.09,823.69Z" fill="#467a29" stroke="#050505" stroke-width="3.5" stroke-linejoin="round"/><path d="M922.81,1070.91A1 1 0 0 1 922.81,1069.49L944.09,1048.21A4.4 4.4 0 0 1 951.60,1051.32L951.60,1089.08A4.4 4.4 0 0 1 944.09,1092.19Z" fill="#467a29" stroke="#050505" stroke-width="3.5" stroke-linejoin="round"/><path d="M899.49,1020.31A2 2 0 0 1 902.31,1020.31L912.37,1030.37A2.3 2.3 0 0 1 910.75,1034.30L905.3,1034.3L905.30,1061.10A0.7 0.7 0 0 1 904.60,1061.80L897.20,1061.80A0.7 0.7 0 0 1 896.50,1061.10L896.5,1034.3L891.05,1034.30A2.3 2.3 0 0 1 889.43,1030.37Z" fill="#467a29" stroke="#3b6b22" stroke-width="0.8"/><path d="M1116.51,802.41A1 1 0 0 1 1116.51,800.99L1137.79,779.71A4.4 4.4 0 0 1 1145.30,782.82L1145.30,820.58A4.4 4.4 0 0 1 1137.79,823.69Z" fill="#467a29" stroke="#050505" stroke-width="3.5" stroke-linejoin="round"/><path d="M1116.51,1070.91A1 1 0 0 1 1116.51,1069.49L1137.79,1048.21A4.4 4.4 0 0 1 1145.30,1051.32L1145.30,1089.08A4.4 4.4 0 0 1 1137.79,1092.19Z" fill="#467a29" stroke="#050505" stroke-width="3.5" stroke-linejoin="round"/><path d="M1093.19,1020.31A2 2 0 0 1 1096.01,1020.31L1106.07,1030.37A2.3 2.3 0 0 1 1104.45,1034.30L1099,1034.3L1099.00,1061.10A0.7 0.7 0 0 1 1098.30,1061.80L1090.90,1061.80A0.7 0.7 0 0 1 1090.20,1061.10L1090.2,1034.3L1084.75,1034.30A2.3 2.3 0 0 1 1083.13,1030.37Z" fill="#467a29" stroke="#3b6b22" stroke-width="0.8"/><path d="M1307.61,802.41A1 1 0 0 1 1307.61,800.99L1328.89,779.71A4.4 4.4 0 0 1 1336.40,782.82L1336.40,820.58A4.4 4.4 0 0 1 1328.89,823.69Z" fill="#467a29" stroke="#050505" stroke-width="3.5" stroke-linejoin="round"/><path d="M1307.61,1070.91A1 1 0 0 1 1307.61,1069.49L1328.89,1048.21A4.4 4.4 0 0 1 1336.40,1051.32L1336.40,1089.08A4.4 4.4 0 0 1 1328.89,1092.19Z" fill="#467a29" stroke="#050505" stroke-width="3.5" stroke-linejoin="round"/><path d="M1284.29,1020.31A2 2 0 0 1 1287.11,1020.31L1297.17,1030.37A2.3 2.3 0 0 1 1295.55,1034.30L1290.1,1034.3L1290.10,1061.10A0.7 0.7 0 0 1 1289.40,1061.80L1282.00,1061.80A0.7 0.7 0 0 1 1281.30,1061.10L1281.3,1034.3L1275.85,1034.30A2.3 2.3 0 0 1 1274.23,1030.37Z" fill="#467a29" stroke="#3b6b22" stroke-width="0.8"/><path d="M97.81,1330.31A1 1 0 0 1 97.81,1328.89L119.09,1307.61A4.4 4.4 0 0 1 126.60,1310.72L126.60,1348.48A4.4 4.4 0 0 1 119.09,1351.59Z" fill="#467a29" stroke="#050505" stroke-width="3.5" stroke-linejoin="round"/><path d="M78.41,1380.39A2 2 0 0 1 75.59,1380.39L65.53,1370.33A2.3 2.3 0 0 1 67.15,1366.40L72.7,1366.4L72.70,1336.50A0.7 0.7 0 0 1 73.40,1335.80L80.60,1335.80A0.7 0.7 0 0 1 81.30,1336.50L81.3,1366.4L86.85,1366.40A2.3 2.3 0 0 1 88.47,1370.33Z" fill="#467a29" stroke="#3b6b22" stroke-width="0.8"/><path d="M286.31,1330.31A1 1 0 0 1 286.31,1328.89L307.59,1307.61A4.4 4.4 0 0 1 315.10,1310.72L315.10,1348.48A4.4 4.4 0 0 1 307.59,1351.59Z" fill="#467a29" stroke="#050505" stroke-width="3.5" stroke-linejoin="round"/><path d="M266.91,1380.39A2 2 0 0 1 264.09,1380.39L254.03,1370.33A2.3 2.3 0 0 1 255.65,1366.40L261.2,1366.4L261.20,1336.50A0.7 0.7 0 0 1 261.90,1335.80L269.10,1335.80A0.7 0.7 0 0 1 269.80,1336.50L269.8,1366.4L275.35,1366.40A2.3 2.3 0 0 1 276.97,1370.33Z" fill="#467a29" stroke="#3b6b22" stroke-width="0.8"/><path d="M480.41,1330.31A1 1 0 0 1 480.41,1328.89L501.69,1307.61A4.4 4.4 0 0 1 509.20,1310.72L509.20,1348.48A4.4 4.4 0 0 1 501.69,1351.59Z" fill="#467a29" stroke="#050505" stroke-width="3.5" stroke-linejoin="round"/><path d="M461.01,1380.39A2 2 0 0 1 458.19,1380.39L448.13,1370.33A2.3 2.3 0 0 1 449.75,1366.40L455.3,1366.4L455.30,1336.50A0.7 0.7 0 0 1 456.00,1335.80L463.20,1335.80A0.7 0.7 0 0 1 463.90,1336.50L463.9,1366.4L469.45,1366.40A2.3 2.3 0 0 1 471.07,1370.33Z" fill="#467a29" stroke="#3b6b22" stroke-width="0.8"/><path d="M668.81,1330.31A1 1 0 0 1 668.81,1328.89L690.09,1307.61A4.4 4.4 0 0 1 697.60,1310.72L697.60,1348.48A4.4 4.4 0 0 1 690.09,1351.59Z" fill="#467a29" stroke="#050505" stroke-width="3.5" stroke-linejoin="round"/><path d="M649.41,1380.39A2 2 0 0 1 646.59,1380.39L636.53,1370.33A2.3 2.3 0 0 1 638.15,1366.40L643.7,1366.4L643.70,1336.50A0.7 0.7 0 0 1 644.40,1335.80L651.60,1335.80A0.7 0.7 0 0 1 652.30,1336.50L652.3,1366.4L657.85,1366.40A2.3 2.3 0 0 1 659.47,1370.33Z" fill="#467a29" stroke="#3b6b22" stroke-width="0.8"/><path d="M862.71,1330.31A1 1 0 0 1 862.71,1328.89L883.99,1307.61A4.4 4.4 0 0 1 891.50,1310.72L891.50,1348.48A4.4 4.4 0 0 1 883.99,1351.59Z" fill="#467a29" stroke="#050505" stroke-width="3.5" stroke-linejoin="round"/><path d="M843.31,1380.39A2 2 0 0 1 840.49,1380.39L830.43,1370.33A2.3 2.3 0 0 1 832.05,1366.40L837.6,1366.4L837.60,1336.50A0.7 0.7 0 0 1 838.30,1335.80L845.50,1335.80A0.7 0.7 0 0 1 846.20,1336.50L846.2,1366.4L851.75,1366.40A2.3 2.3 0 0 1 853.37,1370.33Z" fill="#467a29" stroke="#3b6b22" stroke-width="0.8"/><path d="M1052.11,1330.31A1 1 0 0 1 1052.11,1328.89L1073.39,1307.61A4.4 4.4 0 0 1 1080.90,1310.72L1080.90,1348.48A4.4 4.4 0 0 1 1073.39,1351.59Z" fill="#467a29" stroke="#050505" stroke-width="3.5" stroke-linejoin="round"/><path d="M1032.71,1380.39A2 2 0 0 1 1029.89,1380.39L1019.83,1370.33A2.3 2.3 0 0 1 1021.45,1366.40L1027,1366.4L1027.00,1336.50A0.7 0.7 0 0 1 1027.70,1335.80L1034.90,1335.80A0.7 0.7 0 0 1 1035.60,1336.50L1035.6,1366.4L1041.15,1366.40A2.3 2.3 0 0 1 1042.77,1370.33Z" fill="#467a29" stroke="#3b6b22" stroke-width="0.8"/><path d="M1247.21,1330.31A1 1 0 0 1 1247.21,1328.89L1268.49,1307.61A4.4 4.4 0 0 1 1276.00,1310.72L1276.00,1348.48A4.4 4.4 0 0 1 1268.49,1351.59Z" fill="#467a29" stroke="#050505" stroke-width="3.5" stroke-linejoin="round"/><path d="M1227.81,1380.39A2 2 0 0 1 1224.99,1380.39L1214.93,1370.33A2.3 2.3 0 0 1 1216.55,1366.40L1222.1,1366.4L1222.10,1336.50A0.7 0.7 0 0 1 1222.80,1335.80L1230.00,1335.80A0.7 0.7 0 0 1 1230.70,1336.50L1230.7,1366.4L1236.25,1366.40A2.3 2.3 0 0 1 1237.87,1370.33Z" fill="#467a29" stroke="#3b6b22" stroke-width="0.8"/>
<line x1="623" y1="800" x2="623.4" y2="1069" stroke="#df2a12" stroke-width="6.7" stroke-linecap="round"/><circle cx="623.5" cy="800" r="4.4" fill="#df2a12"/><circle cx="623.6" cy="805.1" r="4.4" fill="#df2a12"/><circle cx="623" cy="810.2" r="4" fill="#df2a12"/><circle cx="622.5" cy="815.2" r="4.1" fill="#df2a12"/><circle cx="623.3" cy="820.3" r="4.2" fill="#df2a12"/><circle cx="623" cy="825.4" r="4.1" fill="#df2a12"/><circle cx="623" cy="830.5" r="3.6" fill="#df2a12"/><circle cx="623.5" cy="835.5" r="3.7" fill="#df2a12"/><circle cx="623" cy="840.6" r="4" fill="#df2a12"/><circle cx="623.6" cy="845.7" r="4.6" fill="#df2a12"/><circle cx="623" cy="850.8" r="4.2" fill="#df2a12"/><circle cx="623.8" cy="855.8" r="4.3" fill="#df2a12"/><circle cx="622.5" cy="860.9" r="4" fill="#df2a12"/><circle cx="623" cy="866" r="3.7" fill="#df2a12"/><circle cx="623.1" cy="871.1" r="4" fill="#df2a12"/><circle cx="623.7" cy="876.1" r="4" fill="#df2a12"/><circle cx="623.3" cy="881.2" r="3.6" fill="#df2a12"/><circle cx="623.7" cy="886.3" r="4.4" fill="#df2a12"/><circle cx="623.6" cy="891.4" r="4.2" fill="#df2a12"/><circle cx="623.5" cy="896.4" r="3.6" fill="#df2a12"/><circle cx="623.3" cy="901.5" r="4.1" fill="#df2a12"/><circle cx="623" cy="906.6" r="3.7" fill="#df2a12"/><circle cx="623.5" cy="911.7" r="3.9" fill="#df2a12"/><circle cx="623.4" cy="916.7" r="4.5" fill="#df2a12"/><circle cx="622.7" cy="921.8" r="3.7" fill="#df2a12"/><circle cx="622.8" cy="926.9" r="3.8" fill="#df2a12"/><circle cx="623.3" cy="932" r="4.2" fill="#df2a12"/><circle cx="622.6" cy="937" r="3.7" fill="#df2a12"/><circle cx="623.2" cy="942.1" r="4.1" fill="#df2a12"/><circle cx="622.7" cy="947.2" r="3.9" fill="#df2a12"/><circle cx="623" cy="952.3" r="3.6" fill="#df2a12"/><circle cx="622.9" cy="957.3" r="4.2" fill="#df2a12"/><circle cx="623.2" cy="962.4" r="3.6" fill="#df2a12"/><circle cx="623.9" cy="967.5" r="3.6" fill="#df2a12"/><circle cx="623.3" cy="972.6" r="4.5" fill="#df2a12"/><circle cx="623.3" cy="977.6" r="4.5" fill="#df2a12"/><circle cx="623.5" cy="982.7" r="3.7" fill="#df2a12"/><circle cx="622.6" cy="987.8" r="3.8" fill="#df2a12"/><circle cx="623.2" cy="992.9" r="4.6" fill="#df2a12"/><circle cx="623.6" cy="997.9" r="3.8" fill="#df2a12"/><circle cx="622.9" cy="1003" r="3.8" fill="#df2a12"/><circle cx="623.6" cy="1008.1" r="3.9" fill="#df2a12"/><circle cx="622.9" cy="1013.2" r="3.8" fill="#df2a12"/><circle cx="623" cy="1018.2" r="3.7" fill="#df2a12"/><circle cx="623.8" cy="1023.3" r="3.7" fill="#df2a12"/><circle cx="623" cy="1028.4" r="4.5" fill="#df2a12"/><circle cx="623.5" cy="1033.5" r="3.6" fill="#df2a12"/><circle cx="623.2" cy="1038.5" r="4.6" fill="#df2a12"/><circle cx="624.1" cy="1043.6" r="4.2" fill="#df2a12"/><circle cx="623.2" cy="1048.7" r="4.5" fill="#df2a12"/><circle cx="623.2" cy="1053.8" r="4" fill="#df2a12"/><circle cx="622.9" cy="1058.8" r="4.1" fill="#df2a12"/><circle cx="623" cy="1063.9" r="3.7" fill="#df2a12"/><circle cx="623.2" cy="1069" r="4" fill="#df2a12"/><line x1="557" y1="1069.8" x2="626" y2="1069.6" stroke="#df2a12" stroke-width="5.2" stroke-linecap="round"/><circle cx="557" cy="1070.1" r="3.6" fill="#df2a12"/><circle cx="562.3" cy="1069.6" r="3.3" fill="#df2a12"/><circle cx="567.6" cy="1069.5" r="3" fill="#df2a12"/><circle cx="572.9" cy="1069.4" r="2.9" fill="#df2a12"/><circle cx="578.2" cy="1069.4" r="3.2" fill="#df2a12"/><circle cx="583.5" cy="1069.6" r="3.6" fill="#df2a12"/><circle cx="588.8" cy="1069.5" r="3" fill="#df2a12"/><circle cx="594.2" cy="1069.7" r="2.9" fill="#df2a12"/><circle cx="599.5" cy="1069.2" r="3" fill="#df2a12"/><circle cx="604.8" cy="1069.5" r="3.3" fill="#df2a12"/><circle cx="610.1" cy="1069.2" r="2.8" fill="#df2a12"/><circle cx="615.4" cy="1070" r="2.9" fill="#df2a12"/><circle cx="620.7" cy="1070" r="3.5" fill="#df2a12"/><circle cx="626" cy="1069.8" r="3.2" fill="#df2a12"/><line x1="745.5" y1="1070.3" x2="798.5" y2="1069.6" stroke="#df2a12" stroke-width="5.7" stroke-linecap="round"/><circle cx="745.5" cy="1070.8" r="3.2" fill="#df2a12"/><circle cx="749.6" cy="1070.8" r="3.5" fill="#df2a12"/><circle cx="753.7" cy="1070.3" r="3.5" fill="#df2a12"/><circle cx="757.7" cy="1070.7" r="3.1" fill="#df2a12"/><circle cx="761.8" cy="1069.5" r="3.4" fill="#df2a12"/><circle cx="765.9" cy="1070.2" r="3.9" fill="#df2a12"/><circle cx="770" cy="1069.6" r="3.5" fill="#df2a12"/><circle cx="774" cy="1069.9" r="3.3" fill="#df2a12"/><circle cx="778.1" cy="1069.9" r="3.7" fill="#df2a12"/><circle cx="782.2" cy="1070" r="3.7" fill="#df2a12"/><circle cx="786.3" cy="1069.2" r="3.4" fill="#df2a12"/><circle cx="790.3" cy="1069.9" r="3.1" fill="#df2a12"/><circle cx="794.4" cy="1069.4" r="3.6" fill="#df2a12"/><circle cx="798.5" cy="1069.5" r="3.3" fill="#df2a12"/><line x1="952" y1="1070.4" x2="1004" y2="1070.2" stroke="#df2a12" stroke-width="3.8" stroke-linecap="round"/><circle cx="952" cy="1070.5" r="2.2" fill="#df2a12"/><circle cx="955.7" cy="1070.6" r="2.2" fill="#df2a12"/><circle cx="959.4" cy="1070.1" r="2.2" fill="#df2a12"/><circle cx="963.1" cy="1070" r="2.4" fill="#df2a12"/><circle cx="966.9" cy="1070.9" r="2.2" fill="#df2a12"/><circle cx="970.6" cy="1070.2" r="2.2" fill="#df2a12"/><circle cx="974.3" cy="1069.6" r="2.5" fill="#df2a12"/><circle cx="978" cy="1070.7" r="2.2" fill="#df2a12"/><circle cx="981.7" cy="1071" r="2.2" fill="#df2a12"/><circle cx="985.4" cy="1070.9" r="2.4" fill="#df2a12"/><circle cx="989.1" cy="1070.4" r="2.4" fill="#df2a12"/><circle cx="992.9" cy="1070.3" r="2.3" fill="#df2a12"/><circle cx="996.6" cy="1070.5" r="2" fill="#df2a12"/><circle cx="1000.3" cy="1070.3" r="2" fill="#df2a12"/><circle cx="1004" cy="1070.2" r="2.1" fill="#df2a12"/><line x1="1005.6" y1="1004" x2="1005.4" y2="1069" stroke="#df2a12" stroke-width="4.9" stroke-linecap="round"/><circle cx="1005.4" cy="1004" r="3.1" fill="#df2a12"/><circle cx="1006" cy="1008.1" r="2.7" fill="#df2a12"/><circle cx="1005.2" cy="1012.1" r="2.7" fill="#df2a12"/><circle cx="1005.6" cy="1016.2" r="2.9" fill="#df2a12"/><circle cx="1005.7" cy="1020.3" r="2.8" fill="#df2a12"/><circle cx="1005.2" cy="1024.3" r="2.9" fill="#df2a12"/><circle cx="1004.9" cy="1028.4" r="3.1" fill="#df2a12"/><circle cx="1005.1" cy="1032.4" r="2.9" fill="#df2a12"/><circle cx="1005.6" cy="1036.5" r="2.7" fill="#df2a12"/><circle cx="1006" cy="1040.6" r="3.2" fill="#df2a12"/><circle cx="1006.1" cy="1044.6" r="2.7" fill="#df2a12"/><circle cx="1005.6" cy="1048.7" r="3" fill="#df2a12"/><circle cx="1005.2" cy="1052.7" r="3.3" fill="#df2a12"/><circle cx="1005.1" cy="1056.8" r="3.2" fill="#df2a12"/><circle cx="1006.2" cy="1060.9" r="2.8" fill="#df2a12"/><circle cx="1005.2" cy="1064.9" r="3.2" fill="#df2a12"/><circle cx="1004.7" cy="1069" r="3.2" fill="#df2a12"/><line x1="1139" y1="1069.9" x2="1199" y2="1069.7" stroke="#df2a12" stroke-width="5.2" stroke-linecap="round"/><circle cx="1139" cy="1069.7" r="3.5" fill="#df2a12"/><circle cx="1144" cy="1069.9" r="3.5" fill="#df2a12"/><circle cx="1149" cy="1069.8" r="3" fill="#df2a12"/><circle cx="1154" cy="1069.7" r="3.6" fill="#df2a12"/><circle cx="1159" cy="1069.6" r="3.2" fill="#df2a12"/><circle cx="1164" cy="1069.8" r="3.4" fill="#df2a12"/><circle cx="1169" cy="1069.4" r="3.5" fill="#df2a12"/><circle cx="1174" cy="1070" r="3.2" fill="#df2a12"/><circle cx="1179" cy="1070.2" r="3.3" fill="#df2a12"/><circle cx="1184" cy="1069.7" r="3.2" fill="#df2a12"/><circle cx="1189" cy="1069.3" r="3.1" fill="#df2a12"/><circle cx="1194" cy="1069.5" r="3.5" fill="#df2a12"/><circle cx="1199" cy="1069.2" r="3.3" fill="#df2a12"/><line x1="1199.4" y1="860" x2="1199.6" y2="1069" stroke="#df2a12" stroke-width="5.4" stroke-linecap="round"/><circle cx="1199.6" cy="860" r="2.9" fill="#df2a12"/><circle cx="1199.9" cy="865.1" r="3.1" fill="#df2a12"/><circle cx="1198.9" cy="870.2" r="2.9" fill="#df2a12"/><circle cx="1199.3" cy="875.3" r="3.7" fill="#df2a12"/><circle cx="1200" cy="880.4" r="3.2" fill="#df2a12"/><circle cx="1199.1" cy="885.5" r="3.1" fill="#df2a12"/><circle cx="1198.8" cy="890.6" r="3" fill="#df2a12"/><circle cx="1200.2" cy="895.7" r="3.7" fill="#df2a12"/><circle cx="1199.5" cy="900.8" r="3.3" fill="#df2a12"/><circle cx="1199.1" cy="905.9" r="3.3" fill="#df2a12"/><circle cx="1199.2" cy="911" r="3.5" fill="#df2a12"/><circle cx="1200.1" cy="916.1" r="3.6" fill="#df2a12"/><circle cx="1200.2" cy="921.2" r="2.9" fill="#df2a12"/><circle cx="1198.7" cy="926.3" r="3.6" fill="#df2a12"/><circle cx="1199.5" cy="931.4" r="3.1" fill="#df2a12"/><circle cx="1200" cy="936.5" r="3.1" fill="#df2a12"/><circle cx="1200.1" cy="941.6" r="3.5" fill="#df2a12"/><circle cx="1199.5" cy="946.7" r="3.4" fill="#df2a12"/><circle cx="1199.6" cy="951.8" r="3.7" fill="#df2a12"/><circle cx="1199.7" cy="956.9" r="3.2" fill="#df2a12"/><circle cx="1199.6" cy="962" r="3.5" fill="#df2a12"/><circle cx="1200.1" cy="967" r="3.4" fill="#df2a12"/><circle cx="1199.3" cy="972.1" r="3.5" fill="#df2a12"/><circle cx="1199.8" cy="977.2" r="3.2" fill="#df2a12"/><circle cx="1200.2" cy="982.3" r="3.1" fill="#df2a12"/><circle cx="1199.1" cy="987.4" r="3.3" fill="#df2a12"/><circle cx="1200" cy="992.5" r="3.6" fill="#df2a12"/><circle cx="1199.1" cy="997.6" r="3.7" fill="#df2a12"/><circle cx="1199.5" cy="1002.7" r="3.5" fill="#df2a12"/><circle cx="1200" cy="1007.8" r="3" fill="#df2a12"/><circle cx="1198.9" cy="1012.9" r="3.6" fill="#df2a12"/><circle cx="1199.9" cy="1018" r="3.7" fill="#df2a12"/><circle cx="1199.7" cy="1023.1" r="3.6" fill="#df2a12"/><circle cx="1199.7" cy="1028.2" r="3.6" fill="#df2a12"/><circle cx="1199.8" cy="1033.3" r="3.1" fill="#df2a12"/><circle cx="1198.9" cy="1038.4" r="3.4" fill="#df2a12"/><circle cx="1199.2" cy="1043.5" r="3" fill="#df2a12"/><circle cx="1199.4" cy="1048.6" r="3.5" fill="#df2a12"/><circle cx="1199.5" cy="1053.7" r="3.1" fill="#df2a12"/><circle cx="1199.2" cy="1058.8" r="3" fill="#df2a12"/><circle cx="1200.2" cy="1063.9" r="3" fill="#df2a12"/><circle cx="1200.2" cy="1069" r="3.6" fill="#df2a12"/><circle cx="131.8" cy="1326.6" r="2.9" fill="#df2a12"/><circle cx="141.9" cy="1326.6" r="2.9" fill="#df2a12"/><circle cx="152" cy="1326.6" r="2.9" fill="#df2a12"/><circle cx="162.1" cy="1326.6" r="2.9" fill="#df2a12"/><circle cx="172.2" cy="1326.6" r="2.9" fill="#df2a12"/><line x1="172.4" y1="1326.5" x2="172.8" y2="1362.5" stroke="#df2a12" stroke-width="4.4" stroke-linecap="round"/><circle cx="172.6" cy="1326.5" r="2.5" fill="#df2a12"/><circle cx="171.7" cy="1330.5" r="2.5" fill="#df2a12"/><circle cx="172.4" cy="1334.5" r="2.5" fill="#df2a12"/><circle cx="172.6" cy="1338.5" r="2.8" fill="#df2a12"/><circle cx="173.6" cy="1342.5" r="2.5" fill="#df2a12"/><circle cx="172.5" cy="1346.5" r="2.5" fill="#df2a12"/><circle cx="172.1" cy="1350.5" r="2.6" fill="#df2a12"/><circle cx="171.7" cy="1354.5" r="2.4" fill="#df2a12"/><circle cx="171.8" cy="1358.5" r="3" fill="#df2a12"/><circle cx="173.9" cy="1362.5" r="2.7" fill="#df2a12"/><line x1="312" y1="1328" x2="367" y2="1328.2" stroke="#df2a12" stroke-width="4.6" stroke-linecap="round"/><circle cx="312" cy="1327.5" r="2.8" fill="#df2a12"/><circle cx="316.2" cy="1328" r="3.1" fill="#df2a12"/><circle cx="320.5" cy="1328.5" r="2.5" fill="#df2a12"/><circle cx="324.7" cy="1328.3" r="2.6" fill="#df2a12"/><circle cx="328.9" cy="1328.6" r="2.6" fill="#df2a12"/><circle cx="333.2" cy="1328.4" r="2.9" fill="#df2a12"/><circle cx="337.4" cy="1328.2" r="2.9" fill="#df2a12"/><circle cx="341.6" cy="1327.9" r="2.5" fill="#df2a12"/><circle cx="345.8" cy="1328" r="2.7" fill="#df2a12"/><circle cx="350.1" cy="1327.9" r="2.6" fill="#df2a12"/><circle cx="354.3" cy="1327.8" r="2.5" fill="#df2a12"/><circle cx="358.5" cy="1327.8" r="2.6" fill="#df2a12"/><circle cx="362.8" cy="1328.5" r="2.9" fill="#df2a12"/><circle cx="367" cy="1328.6" r="2.7" fill="#df2a12"/><line x1="366.4" y1="1328.5" x2="367.4" y2="1400" stroke="#df2a12" stroke-width="5.4" stroke-linecap="round"/><circle cx="367.1" cy="1328.5" r="3.4" fill="#df2a12"/><circle cx="365.9" cy="1333.3" r="3.5" fill="#df2a12"/><circle cx="366.2" cy="1338" r="3.1" fill="#df2a12"/><circle cx="365.7" cy="1342.8" r="3.6" fill="#df2a12"/><circle cx="366.1" cy="1347.6" r="3.3" fill="#df2a12"/><circle cx="366.5" cy="1352.3" r="2.9" fill="#df2a12"/><circle cx="366.9" cy="1357.1" r="3.3" fill="#df2a12"/><circle cx="367.4" cy="1361.9" r="3.1" fill="#df2a12"/><circle cx="367" cy="1366.6" r="3.1" fill="#df2a12"/><circle cx="366.9" cy="1371.4" r="3.1" fill="#df2a12"/><circle cx="366.6" cy="1376.2" r="3.3" fill="#df2a12"/><circle cx="368.1" cy="1380.9" r="3.4" fill="#df2a12"/><circle cx="366.7" cy="1385.7" r="2.9" fill="#df2a12"/><circle cx="366.3" cy="1390.5" r="3" fill="#df2a12"/><circle cx="366.6" cy="1395.2" r="3.7" fill="#df2a12"/><circle cx="366.9" cy="1400" r="3.4" fill="#df2a12"/><line x1="497" y1="1329" x2="557" y2="1329" stroke="#df2a12" stroke-width="5.6" stroke-linecap="round"/><circle cx="497" cy="1329.3" r="3.7" fill="#df2a12"/><circle cx="502" cy="1328.9" r="3.5" fill="#df2a12"/><circle cx="507" cy="1328.5" r="3" fill="#df2a12"/><circle cx="512" cy="1329.3" r="3.7" fill="#df2a12"/><circle cx="517" cy="1329.2" r="3.3" fill="#df2a12"/><circle cx="522" cy="1329.3" r="3" fill="#df2a12"/><circle cx="527" cy="1328.8" r="3.6" fill="#df2a12"/><circle cx="532" cy="1329.1" r="3.2" fill="#df2a12"/><circle cx="537" cy="1329.5" r="3.6" fill="#df2a12"/><circle cx="542" cy="1329.3" r="3.3" fill="#df2a12"/><circle cx="547" cy="1328.8" r="3.7" fill="#df2a12"/><circle cx="552" cy="1329.4" r="3.5" fill="#df2a12"/><circle cx="557" cy="1328.7" r="3.7" fill="#df2a12"/><line x1="556.2" y1="1329" x2="556.8" y2="1482" stroke="#df2a12" stroke-width="6.6" stroke-linecap="round"/><circle cx="555.7" cy="1329" r="4" fill="#df2a12"/><circle cx="556.8" cy="1334.1" r="3.9" fill="#df2a12"/><circle cx="555.9" cy="1339.2" r="3.8" fill="#df2a12"/><circle cx="556.9" cy="1344.3" r="4" fill="#df2a12"/><circle cx="556.2" cy="1349.4" r="3.7" fill="#df2a12"/><circle cx="556.1" cy="1354.5" r="4" fill="#df2a12"/><circle cx="556.3" cy="1359.6" r="3.5" fill="#df2a12"/><circle cx="556.3" cy="1364.7" r="3.9" fill="#df2a12"/><circle cx="556.4" cy="1369.8" r="4.1" fill="#df2a12"/><circle cx="556.9" cy="1374.9" r="3.9" fill="#df2a12"/><circle cx="556.8" cy="1380" r="3.7" fill="#df2a12"/><circle cx="556.1" cy="1385.1" r="3.5" fill="#df2a12"/><circle cx="556.9" cy="1390.2" r="4.2" fill="#df2a12"/><circle cx="556.8" cy="1395.3" r="4.2" fill="#df2a12"/><circle cx="556.8" cy="1400.4" r="4.2" fill="#df2a12"/><circle cx="556.2" cy="1405.5" r="3.6" fill="#df2a12"/><circle cx="557.1" cy="1410.6" r="4.1" fill="#df2a12"/><circle cx="556.3" cy="1415.7" r="3.9" fill="#df2a12"/><circle cx="556.2" cy="1420.8" r="3.5" fill="#df2a12"/><circle cx="556.6" cy="1425.9" r="4.2" fill="#df2a12"/><circle cx="556.6" cy="1431" r="3.7" fill="#df2a12"/><circle cx="556.2" cy="1436.1" r="3.8" fill="#df2a12"/><circle cx="557.3" cy="1441.2" r="3.8" fill="#df2a12"/><circle cx="556.7" cy="1446.3" r="4" fill="#df2a12"/><circle cx="556.2" cy="1451.4" r="4.2" fill="#df2a12"/><circle cx="556.4" cy="1456.5" r="4.4" fill="#df2a12"/><circle cx="556.9" cy="1461.6" r="3.7" fill="#df2a12"/><circle cx="556.7" cy="1466.7" r="3.6" fill="#df2a12"/><circle cx="556.1" cy="1471.8" r="3.9" fill="#df2a12"/><circle cx="556.8" cy="1476.9" r="4.4" fill="#df2a12"/><circle cx="556.6" cy="1482" r="3.5" fill="#df2a12"/><line x1="682" y1="1329.2" x2="752" y2="1329" stroke="#df2a12" stroke-width="5.6" stroke-linecap="round"/><circle cx="682" cy="1329.8" r="3.6" fill="#df2a12"/><circle cx="686.7" cy="1329.5" r="3.1" fill="#df2a12"/><circle cx="691.3" cy="1328.6" r="3.1" fill="#df2a12"/><circle cx="696" cy="1329.7" r="3" fill="#df2a12"/><circle cx="700.7" cy="1328.5" r="3.1" fill="#df2a12"/><circle cx="705.3" cy="1329.1" r="3.4" fill="#df2a12"/><circle cx="710" cy="1328.9" r="3.2" fill="#df2a12"/><circle cx="714.7" cy="1329" r="3.4" fill="#df2a12"/><circle cx="719.3" cy="1329.7" r="3.1" fill="#df2a12"/><circle cx="724" cy="1328.9" r="3" fill="#df2a12"/><circle cx="728.7" cy="1329.5" r="3.4" fill="#df2a12"/><circle cx="733.3" cy="1329.2" r="3" fill="#df2a12"/><circle cx="738" cy="1329.1" r="3" fill="#df2a12"/><circle cx="742.7" cy="1328.3" r="3" fill="#df2a12"/><circle cx="747.3" cy="1329.5" r="3.6" fill="#df2a12"/><circle cx="752" cy="1329.3" r="3.1" fill="#df2a12"/><circle cx="751.6" cy="1338" r="3.1" fill="#df2a12"/><circle cx="751.6" cy="1345.5" r="3.1" fill="#df2a12"/><circle cx="751.6" cy="1353" r="3.1" fill="#df2a12"/><circle cx="751.6" cy="1362" r="3.1" fill="#df2a12"/><circle cx="751.6" cy="1370.4" r="3.1" fill="#df2a12"/><circle cx="751.6" cy="1377" r="3.1" fill="#df2a12"/><circle cx="751.6" cy="1388.4" r="3.1" fill="#df2a12"/><circle cx="751.6" cy="1434" r="3.1" fill="#df2a12"/><circle cx="751.6" cy="1447.5" r="3.1" fill="#df2a12"/><line x1="876.6" y1="1367" x2="876.2" y2="1482" stroke="#df2a12" stroke-width="3.8" stroke-linecap="round"/><circle cx="876.4" cy="1367" r="2.5" fill="#df2a12"/><circle cx="876.8" cy="1370.7" r="2" fill="#df2a12"/><circle cx="875.9" cy="1374.4" r="2.5" fill="#df2a12"/><circle cx="877.2" cy="1378.1" r="2.4" fill="#df2a12"/><circle cx="875.8" cy="1381.8" r="2.3" fill="#df2a12"/><circle cx="876.2" cy="1385.5" r="2.5" fill="#df2a12"/><circle cx="877.1" cy="1389.3" r="2.1" fill="#df2a12"/><circle cx="876" cy="1393" r="2.3" fill="#df2a12"/><circle cx="876.7" cy="1396.7" r="2.3" fill="#df2a12"/><circle cx="876.2" cy="1400.4" r="2.1" fill="#df2a12"/><circle cx="876.8" cy="1404.1" r="2.5" fill="#df2a12"/><circle cx="876.6" cy="1407.8" r="2.3" fill="#df2a12"/><circle cx="875.7" cy="1411.5" r="2.5" fill="#df2a12"/><circle cx="877.1" cy="1415.2" r="2.5" fill="#df2a12"/><circle cx="877.2" cy="1418.9" r="2.4" fill="#df2a12"/><circle cx="876.8" cy="1422.6" r="2.3" fill="#df2a12"/><circle cx="876.7" cy="1426.4" r="2.3" fill="#df2a12"/><circle cx="876.6" cy="1430.1" r="2" fill="#df2a12"/><circle cx="875.7" cy="1433.8" r="2" fill="#df2a12"/><circle cx="876.3" cy="1437.5" r="2.4" fill="#df2a12"/><circle cx="876" cy="1441.2" r="2.1" fill="#df2a12"/><circle cx="875.9" cy="1444.9" r="2.4" fill="#df2a12"/><circle cx="876.4" cy="1448.6" r="2" fill="#df2a12"/><circle cx="877" cy="1452.3" r="2.3" fill="#df2a12"/><circle cx="875.7" cy="1456" r="2.3" fill="#df2a12"/><circle cx="875.5" cy="1459.7" r="2.5" fill="#df2a12"/><circle cx="875.8" cy="1463.5" r="2.6" fill="#df2a12"/><circle cx="877.1" cy="1467.2" r="2.4" fill="#df2a12"/><circle cx="875.9" cy="1470.9" r="2.2" fill="#df2a12"/><circle cx="876.6" cy="1474.6" r="2.1" fill="#df2a12"/><circle cx="876.5" cy="1478.3" r="2.5" fill="#df2a12"/><circle cx="875.4" cy="1482" r="2.5" fill="#df2a12"/><line x1="1135.4" y1="1333" x2="1135.8" y2="1389.5" stroke="#df2a12" stroke-width="4.4" stroke-linecap="round"/><circle cx="1135.2" cy="1333" r="2.4" fill="#df2a12"/><circle cx="1135.2" cy="1337" r="2.9" fill="#df2a12"/><circle cx="1135.8" cy="1341.1" r="2.4" fill="#df2a12"/><circle cx="1135.6" cy="1345.1" r="2.8" fill="#df2a12"/><circle cx="1135.1" cy="1349.1" r="2.6" fill="#df2a12"/><circle cx="1135.5" cy="1353.2" r="2.6" fill="#df2a12"/><circle cx="1136.3" cy="1357.2" r="2.6" fill="#df2a12"/><circle cx="1135.3" cy="1361.3" r="2.8" fill="#df2a12"/><circle cx="1135.1" cy="1365.3" r="2.7" fill="#df2a12"/><circle cx="1135.1" cy="1369.3" r="2.5" fill="#df2a12"/><circle cx="1136" cy="1373.4" r="2.5" fill="#df2a12"/><circle cx="1136" cy="1377.4" r="2.7" fill="#df2a12"/><circle cx="1135.2" cy="1381.4" r="2.8" fill="#df2a12"/><circle cx="1136.1" cy="1385.5" r="2.7" fill="#df2a12"/><circle cx="1135.6" cy="1389.5" r="2.9" fill="#df2a12"/><line x1="1264.5" y1="1329.2" x2="1300" y2="1329" stroke="#df2a12" stroke-width="4.8" stroke-linecap="round"/><circle cx="1264.5" cy="1329.1" r="2.8" fill="#df2a12"/><circle cx="1269.6" cy="1329" r="3" fill="#df2a12"/><circle cx="1274.6" cy="1329.5" r="3.2" fill="#df2a12"/><circle cx="1279.7" cy="1328.9" r="2.8" fill="#df2a12"/><circle cx="1284.8" cy="1329.2" r="2.7" fill="#df2a12"/><circle cx="1289.9" cy="1329.3" r="2.8" fill="#df2a12"/><circle cx="1294.9" cy="1329.3" r="3" fill="#df2a12"/><circle cx="1300" cy="1328.6" r="3" fill="#df2a12"/>
<text class="lbl" x="161.5" y="806.1" text-anchor="end" textLength="31.4" lengthAdjust="spacingAndGlyphs" filter="url(#halo)">1107</text>
<text class="lbl" x="161.5" y="1074.5" text-anchor="end" textLength="31.4" lengthAdjust="spacingAndGlyphs" filter="url(#halo)">1106</text>
<text class="lbl" x="355" y="806.1" text-anchor="end" textLength="31.4" lengthAdjust="spacingAndGlyphs" filter="url(#halo)">1104</text>
<text class="lbl" x="355" y="1074.5" text-anchor="end" textLength="31.4" lengthAdjust="spacingAndGlyphs" filter="url(#halo)">1105</text>
<text class="lbl" x="544.2" y="806.1" text-anchor="end" textLength="31.4" lengthAdjust="spacingAndGlyphs" filter="url(#halo)">1087</text>
<text class="lbl" x="544.2" y="1074.5" text-anchor="end" textLength="31.4" lengthAdjust="spacingAndGlyphs" filter="url(#halo)">1086</text>
<text class="lbl" x="737.7" y="806.1" text-anchor="end" textLength="31.4" lengthAdjust="spacingAndGlyphs" filter="url(#halo)">1084</text>
<text class="lbl" x="737.7" y="1074.5" text-anchor="end" textLength="31.4" lengthAdjust="spacingAndGlyphs" filter="url(#halo)">1085</text>
<text class="lbl" x="926.4" y="806.1" text-anchor="end" textLength="31.4" lengthAdjust="spacingAndGlyphs" filter="url(#halo)">1067</text>
<text class="lbl" x="926.4" y="1074.5" text-anchor="end" textLength="31.4" lengthAdjust="spacingAndGlyphs" filter="url(#halo)">1066</text>
<text class="lbl" x="1120.1" y="806.1" text-anchor="end" textLength="31.4" lengthAdjust="spacingAndGlyphs" filter="url(#halo)">1064</text>
<text class="lbl" x="1120.1" y="1074.5" text-anchor="end" textLength="31.4" lengthAdjust="spacingAndGlyphs" filter="url(#halo)">1065</text>
<text class="lbl" x="1311.2" y="806.1" text-anchor="end" textLength="31.4" lengthAdjust="spacingAndGlyphs" filter="url(#halo)">1047</text>
<text class="lbl" x="1311.2" y="1074.5" text-anchor="end" textLength="31.4" lengthAdjust="spacingAndGlyphs" filter="url(#halo)">1046</text>
<text class="lbl" x="101.4" y="1335.1" text-anchor="end" textLength="31.4" lengthAdjust="spacingAndGlyphs" filter="url(#halo)">1576</text>
<text class="lbl" x="289.9" y="1335.1" text-anchor="end" textLength="31.4" lengthAdjust="spacingAndGlyphs" filter="url(#halo)">1595</text>
<text class="lbl" x="484" y="1335.1" text-anchor="end" textLength="31.4" lengthAdjust="spacingAndGlyphs" filter="url(#halo)">1596</text>
<text class="lbl" x="672.4" y="1335.1" text-anchor="end" textLength="31.4" lengthAdjust="spacingAndGlyphs" filter="url(#halo)">1615</text>
<text class="lbl" x="866.3" y="1335.1" text-anchor="end" textLength="31.4" lengthAdjust="spacingAndGlyphs" filter="url(#halo)">1616</text>
<text class="lbl" x="1055.7" y="1335.1" text-anchor="end" textLength="31.4" lengthAdjust="spacingAndGlyphs" filter="url(#halo)">1635</text>
<text class="lbl" x="1250.8" y="1335.1" text-anchor="end" textLength="31.4" lengthAdjust="spacingAndGlyphs" filter="url(#halo)">1636</text>
<g transform="translate(823,1139.5) rotate(175.3)"><path d="M-16.1,-32 L17.7,-32 Q19.2,-32 20.3,-30.8 L48.4,-2.8 Q51.2,0 48.4,2.8 L20.3,30.8 Q19.2,32 17.7,32 L-16.1,32 A35.8 35.8 0 0 1 -16.1,-32Z" fill="#d9bc52" stroke="#0b0b0b" stroke-width="2.4" stroke-linejoin="round"/><path d="M-22.1,3.4Q-24.2,0 -22.1,-3.4L-13.3,-17.2Q-11.2,-20.6 -7.2,-20.6L7.2,-20.6Q11.2,-20.6 13.3,-17.2L22.1,-3.4Q24.2,0 22.1,3.4L13.3,17.2Q11.2,20.6 7.2,20.6L-7.2,20.6Q-11.2,20.6 -13.3,17.2Z" fill="#fdfeff" stroke="#fdfeff" stroke-width="3" stroke-linejoin="round" filter="url(#hb)"/></g><text class="rid" opacity="0.999" x="821.7" y="1146.4" text-anchor="middle" textLength="41.4" lengthAdjust="spacingAndGlyphs">001</text>
<g transform="translate(973.2,1217.1) rotate(-7.2)"><path d="M-16.1,-32 L17.7,-32 Q19.2,-32 20.3,-30.8 L48.4,-2.8 Q51.2,0 48.4,2.8 L20.3,30.8 Q19.2,32 17.7,32 L-16.1,32 A35.8 35.8 0 0 1 -16.1,-32Z" fill="#64a1d7" stroke="#0b0b0b" stroke-width="2.4" stroke-linejoin="round"/><path d="M-24.4,3.4Q-26.5,0 -24.4,-3.4L-15.6,-17.2Q-13.5,-20.6 -9.5,-20.6L9.5,-20.6Q13.5,-20.6 15.6,-17.2L24.4,-3.4Q26.5,0 24.4,3.4L15.6,17.2Q13.5,20.6 9.5,20.6L-9.5,20.6Q-13.5,20.6 -15.6,17.2Z" fill="#fdfeff" stroke="#fdfeff" stroke-width="3" stroke-linejoin="round" filter="url(#hb)"/></g><text class="rid" opacity="0.999" x="973.3" y="1224.6" text-anchor="middle" textLength="48.2" lengthAdjust="spacingAndGlyphs">009</text>
<g transform="translate(1139.6,1176.1) rotate(-11.5)"><path d="M-16.1,-32 L17.7,-32 Q19.2,-32 20.3,-30.8 L48.4,-2.8 Q51.2,0 48.4,2.8 L20.3,30.8 Q19.2,32 17.7,32 L-16.1,32 A35.8 35.8 0 0 1 -16.1,-32Z" fill="#64a1d7" stroke="#0b0b0b" stroke-width="2.4" stroke-linejoin="round"/><path d="M-24.4,3.4Q-26.5,0 -24.4,-3.4L-15.6,-17.2Q-13.5,-20.6 -9.5,-20.6L9.5,-20.6Q13.5,-20.6 15.6,-17.2L24.4,-3.4Q26.5,0 24.4,3.4L15.6,17.2Q13.5,20.6 9.5,20.6L-9.5,20.6Q-13.5,20.6 -15.6,17.2Z" fill="#fdfeff" stroke="#fdfeff" stroke-width="3" stroke-linejoin="round" filter="url(#hb)"/></g><text class="rid" opacity="0.999" x="1139.7" y="1182.8" text-anchor="middle" textLength="47.3" lengthAdjust="spacingAndGlyphs">007</text>
<g transform="translate(1269,1246.6) rotate(165.5)"><path d="M-16.1,-32 L17.7,-32 Q19.2,-32 20.3,-30.8 L48.4,-2.8 Q51.2,0 48.4,2.8 L20.3,30.8 Q19.2,32 17.7,32 L-16.1,32 A35.8 35.8 0 0 1 -16.1,-32Z" fill="#64a1d7" stroke="#0b0b0b" stroke-width="2.4" stroke-linejoin="round"/><path d="M-24.4,3.4Q-26.5,0 -24.4,-3.4L-15.6,-17.2Q-13.5,-20.6 -9.5,-20.6L9.5,-20.6Q13.5,-20.6 15.6,-17.2L24.4,-3.4Q26.5,0 24.4,3.4L15.6,17.2Q13.5,20.6 9.5,20.6L-9.5,20.6Q-13.5,20.6 -15.6,17.2Z" fill="#fdfeff" stroke="#fdfeff" stroke-width="3" stroke-linejoin="round" filter="url(#hb)"/></g><text class="rid" opacity="0.999" x="1268.6" y="1253.5" text-anchor="middle" textLength="40" lengthAdjust="spacingAndGlyphs">015</text>
<g transform="translate(1151.6,1291.3) rotate(182.4)"><path d="M-16.1,-32 L17.7,-32 Q19.2,-32 20.3,-30.8 L48.4,-2.8 Q51.2,0 48.4,2.8 L20.3,30.8 Q19.2,32 17.7,32 L-16.1,32 A35.8 35.8 0 0 1 -16.1,-32Z" fill="#64a1d7" stroke="#0b0b0b" stroke-width="2.4" stroke-linejoin="round"/><path d="M-24.4,3.4Q-26.5,0 -24.4,-3.4L-15.6,-17.2Q-13.5,-20.6 -9.5,-20.6L9.5,-20.6Q13.5,-20.6 15.6,-17.2L24.4,-3.4Q26.5,0 24.4,3.4L15.6,17.2Q13.5,20.6 9.5,20.6L-9.5,20.6Q-13.5,20.6 -15.6,17.2Z" fill="#fdfeff" stroke="#fdfeff" stroke-width="3" stroke-linejoin="round" filter="url(#hb)"/></g><text class="rid" opacity="0.999" x="1151.6" y="1297.8" text-anchor="middle" textLength="47.7" lengthAdjust="spacingAndGlyphs">002</text>
</g>
</svg>
</body>
</html>
